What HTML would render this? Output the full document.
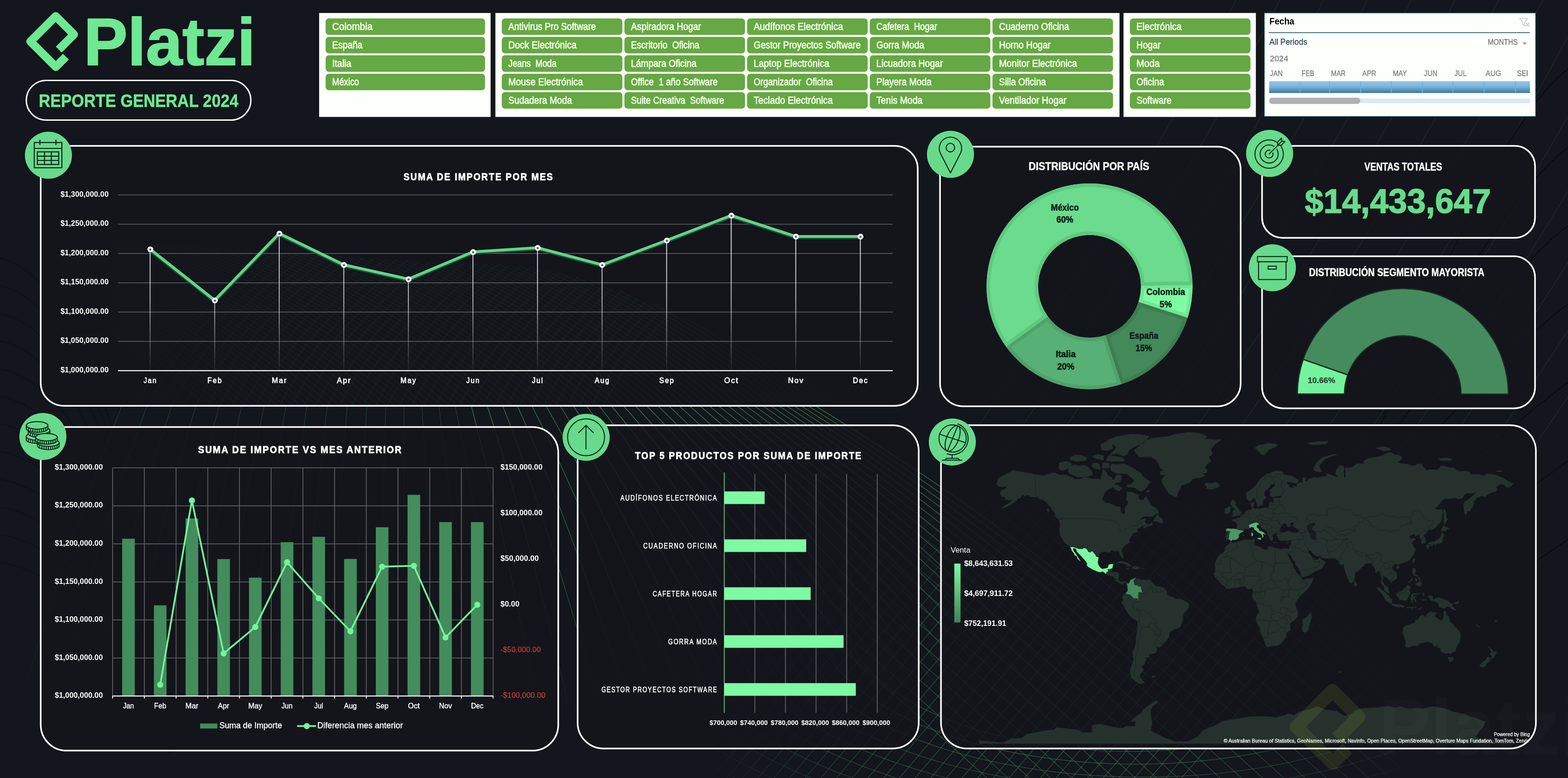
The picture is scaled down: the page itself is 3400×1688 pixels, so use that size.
<!DOCTYPE html>
<html lang="es">
<head>
<meta charset="utf-8">
<title>Platzi - Reporte General 2024</title>
<style>
html,body{margin:0;padding:0;background:#13161c;}
body{width:3400px;height:1688px;overflow:hidden;position:relative;}
svg{display:block;position:absolute;left:0;top:0;}
text{font-family:'Liberation Sans', sans-serif;white-space:pre;}
</style>
</head>
<body>
<svg width="3400" height="1688" viewBox="0 0 3400 1688">
<rect width="3400" height="1688" fill="#13161c"/>
<!-- bg -->
<defs>
<radialGradient id="bgm1" gradientUnits="userSpaceOnUse" cx="1500" cy="930" r="820" gradientTransform="translate(1500 930) scale(1 0.5) translate(-1500 -930)">
<stop offset="0" stop-color="#fff" stop-opacity="1"/><stop offset="0.5" stop-color="#fff" stop-opacity="0.85"/><stop offset="1" stop-color="#fff" stop-opacity="0"/></radialGradient>
<mask id="bgmask1" maskUnits="userSpaceOnUse" x="0" y="0" width="3400" height="1688"><rect width="3400" height="1688" fill="url(#bgm1)"/></mask>
<radialGradient id="bgm2" gradientUnits="userSpaceOnUse" cx="2300" cy="1560" r="800" gradientTransform="translate(2300 1560) scale(1 0.66) translate(-2300 -1560)">
<stop offset="0" stop-color="#fff" stop-opacity="1"/><stop offset="0.55" stop-color="#fff" stop-opacity="0.75"/><stop offset="1" stop-color="#fff" stop-opacity="0"/></radialGradient>
<mask id="bgmask2" maskUnits="userSpaceOnUse" x="0" y="0" width="3400" height="1688"><rect width="3400" height="1688" fill="url(#bgm2)"/></mask>
</defs>
<defs><linearGradient id="fang" gradientUnits="userSpaceOnUse" x1="0" y1="860" x2="0" y2="1560"><stop offset="0" stop-color="#fff" stop-opacity="1"/><stop offset="0.12" stop-color="#fff" stop-opacity="1"/><stop offset="0.6" stop-color="#fff" stop-opacity="0.6"/><stop offset="1" stop-color="#fff" stop-opacity="0"/></linearGradient><mask id="fanm" maskUnits="userSpaceOnUse" x="0" y="0" width="3400" height="1688"><rect x="0" y="882" width="3400" height="806" fill="url(#fang)"/></mask></defs>
<path d="M1750 870 Q2218 1150 2735 1600 M1735 870 Q2195 1150 2704 1600 M1720 870 Q2172 1150 2672 1600 M1705 870 Q2148 1150 2639 1600 M1689 870 Q2124 1150 2605 1600 M1673 870 Q2099 1150 2570 1600 M1656 870 Q2073 1150 2535 1600 M1639 870 Q2046 1150 2498 1600 M1621 870 Q2019 1150 2460 1600 M1603 870 Q1991 1150 2422 1600 M1584 870 Q1963 1150 2382 1600 M1565 870 Q1933 1150 2341 1600 M1545 870 Q1903 1150 2299 1600 M1525 870 Q1872 1150 2256 1600 M1505 870 Q1840 1150 2212 1600 M1483 870 Q1807 1150 2166 1600 M1461 870 Q1774 1150 2120 1600 M1439 870 Q1739 1150 2072 1600 M1416 870 Q1704 1150 2023 1600 M1392 870 Q1668 1150 1972 1600 M1368 870 Q1630 1150 1921 1600 M1343 870 Q1592 1150 1867 1600 M1317 870 Q1552 1150 1813 1600 M1291 870 Q1512 1150 1756 1600 M1264 870 Q1470 1150 1699 1600 M1236 870 Q1428 1150 1639 1600 M1208 870 Q1384 1150 1579 1600 M1178 870 Q1339 1150 1516 1600 M1148 870 Q1292 1150 1452 1600 M1117 870 Q1245 1150 1386 1600 M1086 870 Q1196 1150 1318 1600 M1053 870 Q1146 1150 1249 1600 M1019 870 Q1094 1150 1177 1600" fill="none" stroke="#41855c" stroke-opacity="0.85" stroke-width="1.4" mask="url(#fanm)"/>
<path d="M985 870 Q1042 1150 1104 1600 M950 870 Q987 1150 1029 1600 M914 870 Q932 1150 952 1600 M876 870 Q875 1150 875 1600 M837 870 Q828 1150 819 1600 M796 870 Q780 1150 762 1600 M754 870 Q730 1150 703 1600 M711 870 Q679 1150 643 1600 M667 870 Q626 1150 582 1600 M622 870 Q573 1150 518 1600 M575 870 Q517 1150 453 1600 M527 870 Q460 1150 386 1600 M478 870 Q402 1150 317 1600 M428 870 Q342 1150 247 1600 M376 870 Q280 1150 174 1600 M323 870 Q217 1150 100 1600 M269 870 Q152 1150 23 1600" fill="none" stroke="#3a6b52" stroke-opacity="0.45" stroke-width="1.3" mask="url(#fanm)"/>
<path d="M940 700 Q1380 1000 2140 1688 M986 700 Q1426 1000 2186 1688 M1032 700 Q1472 1000 2232 1688 M1078 700 Q1518 1000 2278 1688 M1124 700 Q1564 1000 2324 1688 M1170 700 Q1610 1000 2370 1688 M1216 700 Q1656 1000 2416 1688 M1262 700 Q1702 1000 2462 1688 M1308 700 Q1748 1000 2508 1688 M1354 700 Q1794 1000 2554 1688 M1400 700 Q1840 1000 2600 1688 M1446 700 Q1886 1000 2646 1688 M1492 700 Q1932 1000 2692 1688 M1538 700 Q1978 1000 2738 1688 M1584 700 Q2024 1000 2784 1688 M1630 700 Q2070 1000 2830 1688 M1676 700 Q2116 1000 2876 1688 M1722 700 Q2162 1000 2922 1688 M1768 700 Q2208 1000 2968 1688 M1814 700 Q2254 1000 3014 1688 M1860 700 Q2300 1000 3060 1688 M1906 700 Q2346 1000 3106 1688 M1952 700 Q2392 1000 3152 1688 M1998 700 Q2438 1000 3198 1688 M2044 700 Q2484 1000 3244 1688 M2090 700 Q2530 1000 3290 1688 M2136 700 Q2576 1000 3336 1688 M2182 700 Q2622 1000 3382 1688 M2228 700 Q2668 1000 3428 1688 M2274 700 Q2714 1000 3474 1688" fill="none" stroke="#41855c" stroke-opacity="0.6" stroke-width="1.4" mask="url(#bgmask2)"/>
<path d="M2220 760 Q1920 1130 1440 1688 M2254 760 Q1954 1130 1474 1688 M2288 760 Q1988 1130 1508 1688 M2322 760 Q2022 1130 1542 1688 M2356 760 Q2056 1130 1576 1688 M2390 760 Q2090 1130 1610 1688 M2424 760 Q2124 1130 1644 1688 M2458 760 Q2158 1130 1678 1688 M2492 760 Q2192 1130 1712 1688 M2526 760 Q2226 1130 1746 1688 M2560 760 Q2260 1130 1780 1688 M2594 760 Q2294 1130 1814 1688 M2628 760 Q2328 1130 1848 1688 M2662 760 Q2362 1130 1882 1688 M2696 760 Q2396 1130 1916 1688 M2730 760 Q2430 1130 1950 1688 M2764 760 Q2464 1130 1984 1688 M2798 760 Q2498 1130 2018 1688 M2832 760 Q2532 1130 2052 1688 M2866 760 Q2566 1130 2086 1688 M2900 760 Q2600 1130 2120 1688 M2934 760 Q2634 1130 2154 1688 M2968 760 Q2668 1130 2188 1688 M3002 760 Q2702 1130 2222 1688 M3036 760 Q2736 1130 2256 1688 M3070 760 Q2770 1130 2290 1688 M3104 760 Q2804 1130 2324 1688 M3138 760 Q2838 1130 2358 1688 M3172 760 Q2872 1130 2392 1688 M3206 760 Q2906 1130 2426 1688 M3240 760 Q2940 1130 2460 1688 M3274 760 Q2974 1130 2494 1688 M3308 760 Q3008 1130 2528 1688 M3342 760 Q3042 1130 2562 1688" fill="none" stroke="#41855c" stroke-opacity="0.6" stroke-width="1.4" mask="url(#bgmask2)"/>
<path d="M1830 1330 A620 300 0 0 0 3070 1330 M1764 1324 A700 334 0 0 0 3164 1324 M1698 1318 A780 368 0 0 0 3258 1318 M1632 1312 A860 402 0 0 0 3352 1312 M1566 1306 A940 436 0 0 0 3446 1306 M1500 1300 A1020 470 0 0 0 3540 1300 M1434 1294 A1100 504 0 0 0 3634 1294 M1368 1288 A1180 538 0 0 0 3728 1288 M1302 1282 A1260 572 0 0 0 3822 1282 M1236 1276 A1340 606 0 0 0 3916 1276 M1170 1270 A1420 640 0 0 0 4010 1270 M1104 1264 A1500 674 0 0 0 4104 1264" fill="none" stroke="#41855c" stroke-opacity="0.6" stroke-width="1.4" mask="url(#bgmask2)"/>
<defs><clipPath id="hill"><path d="M250 522 C480 536 800 566 1056 572 C1300 580 1520 700 1800 856 L1800 882 L250 882 Z"/></clipPath><linearGradient id="hillg" gradientUnits="userSpaceOnUse" x1="250" y1="0" x2="1800" y2="0"><stop offset="0" stop-color="#fff" stop-opacity="0.15"/><stop offset="0.25" stop-color="#fff" stop-opacity="0.9"/><stop offset="0.8" stop-color="#fff" stop-opacity="0.9"/><stop offset="1" stop-color="#fff" stop-opacity="0.3"/></linearGradient><mask id="hillm" maskUnits="userSpaceOnUse" x="0" y="0" width="3400" height="1688"><rect width="3400" height="1688" fill="url(#hillg)"/></mask></defs>
<g clip-path="url(#hill)"><path d="M-250 500 Q170 640 450 882 M-233 500 Q187 640 467 882 M-216 500 Q204 640 484 882 M-199 500 Q221 640 501 882 M-182 500 Q238 640 518 882 M-165 500 Q255 640 535 882 M-148 500 Q272 640 552 882 M-131 500 Q289 640 569 882 M-114 500 Q306 640 586 882 M-97 500 Q323 640 603 882 M-80 500 Q340 640 620 882 M-63 500 Q357 640 637 882 M-46 500 Q374 640 654 882 M-29 500 Q391 640 671 882 M-12 500 Q408 640 688 882 M5 500 Q425 640 705 882 M22 500 Q442 640 722 882 M39 500 Q459 640 739 882 M56 500 Q476 640 756 882 M73 500 Q493 640 773 882 M90 500 Q510 640 790 882 M107 500 Q527 640 807 882 M124 500 Q544 640 824 882 M141 500 Q561 640 841 882 M158 500 Q578 640 858 882 M175 500 Q595 640 875 882 M192 500 Q612 640 892 882 M209 500 Q629 640 909 882 M226 500 Q646 640 926 882 M243 500 Q663 640 943 882 M260 500 Q680 640 960 882 M277 500 Q697 640 977 882 M294 500 Q714 640 994 882 M311 500 Q731 640 1011 882 M328 500 Q748 640 1028 882 M345 500 Q765 640 1045 882 M362 500 Q782 640 1062 882 M379 500 Q799 640 1079 882 M396 500 Q816 640 1096 882 M413 500 Q833 640 1113 882 M430 500 Q850 640 1130 882 M447 500 Q867 640 1147 882 M464 500 Q884 640 1164 882 M481 500 Q901 640 1181 882 M498 500 Q918 640 1198 882 M515 500 Q935 640 1215 882 M532 500 Q952 640 1232 882 M549 500 Q969 640 1249 882 M566 500 Q986 640 1266 882 M583 500 Q1003 640 1283 882 M600 500 Q1020 640 1300 882 M617 500 Q1037 640 1317 882 M634 500 Q1054 640 1334 882 M651 500 Q1071 640 1351 882 M668 500 Q1088 640 1368 882 M685 500 Q1105 640 1385 882 M702 500 Q1122 640 1402 882 M719 500 Q1139 640 1419 882 M736 500 Q1156 640 1436 882 M753 500 Q1173 640 1453 882 M770 500 Q1190 640 1470 882 M787 500 Q1207 640 1487 882 M804 500 Q1224 640 1504 882 M821 500 Q1241 640 1521 882 M838 500 Q1258 640 1538 882 M855 500 Q1275 640 1555 882 M872 500 Q1292 640 1572 882 M889 500 Q1309 640 1589 882 M906 500 Q1326 640 1606 882 M923 500 Q1343 640 1623 882 M940 500 Q1360 640 1640 882 M957 500 Q1377 640 1657 882 M974 500 Q1394 640 1674 882 M991 500 Q1411 640 1691 882 M1008 500 Q1428 640 1708 882 M1025 500 Q1445 640 1725 882 M1042 500 Q1462 640 1742 882 M1059 500 Q1479 640 1759 882 M1076 500 Q1496 640 1776 882 M1093 500 Q1513 640 1793 882 M1110 500 Q1530 640 1810 882 M1127 500 Q1547 640 1827 882 M1144 500 Q1564 640 1844 882 M1161 500 Q1581 640 1861 882 M1178 500 Q1598 640 1878 882 M1195 500 Q1615 640 1895 882 M1212 500 Q1632 640 1912 882 M1229 500 Q1649 640 1929 882 M1246 500 Q1666 640 1946 882 M1263 500 Q1683 640 1963 882 M1280 500 Q1700 640 1980 882 M1297 500 Q1717 640 1997 882 M1314 500 Q1734 640 2014 882 M1331 500 Q1751 640 2031 882 M1348 500 Q1768 640 2048 882 M1365 500 Q1785 640 2065 882 M1382 500 Q1802 640 2082 882 M1399 500 Q1819 640 2099 882 M1416 500 Q1836 640 2116 882 M1433 500 Q1853 640 2133 882 M1450 500 Q1870 640 2150 882 M1467 500 Q1887 640 2167 882 M1484 500 Q1904 640 2184 882 M1501 500 Q1921 640 2201 882 M1518 500 Q1938 640 2218 882 M1535 500 Q1955 640 2235 882 M1552 500 Q1972 640 2252 882 M1569 500 Q1989 640 2269 882 M1586 500 Q2006 640 2286 882 M1603 500 Q2023 640 2303 882" fill="none" stroke="#41855c" stroke-opacity="0.55" stroke-width="1.3" mask="url(#hillm)"/></g>
<g clip-path="url(#hill)"><path d="M250 990 Q340 700 670 500 M276 990 Q366 700 696 500 M302 990 Q392 700 722 500 M328 990 Q418 700 748 500 M354 990 Q444 700 774 500 M380 990 Q470 700 800 500 M406 990 Q496 700 826 500 M432 990 Q522 700 852 500 M458 990 Q548 700 878 500 M484 990 Q574 700 904 500 M510 990 Q600 700 930 500 M536 990 Q626 700 956 500 M562 990 Q652 700 982 500 M588 990 Q678 700 1008 500 M614 990 Q704 700 1034 500 M640 990 Q730 700 1060 500 M666 990 Q756 700 1086 500 M692 990 Q782 700 1112 500 M718 990 Q808 700 1138 500 M744 990 Q834 700 1164 500 M770 990 Q860 700 1190 500 M796 990 Q886 700 1216 500 M822 990 Q912 700 1242 500 M848 990 Q938 700 1268 500 M874 990 Q964 700 1294 500 M900 990 Q990 700 1320 500 M926 990 Q1016 700 1346 500 M952 990 Q1042 700 1372 500 M978 990 Q1068 700 1398 500 M1004 990 Q1094 700 1424 500 M1030 990 Q1120 700 1450 500 M1056 990 Q1146 700 1476 500 M1082 990 Q1172 700 1502 500 M1108 990 Q1198 700 1528 500 M1134 990 Q1224 700 1554 500 M1160 990 Q1250 700 1580 500 M1186 990 Q1276 700 1606 500 M1212 990 Q1302 700 1632 500 M1238 990 Q1328 700 1658 500 M1264 990 Q1354 700 1684 500" fill="none" stroke="#41855c" stroke-opacity="0.6" stroke-width="1.3" mask="url(#hillm)"/></g>
<path d="M2680 0 Q2470 420 2070 1000 M2775 0 Q2565 420 2165 1000 M2870 0 Q2660 420 2260 1000 M2965 0 Q2755 420 2355 1000 M3060 0 Q2850 420 2450 1000 M3155 0 Q2945 420 2545 1000 M3250 0 Q3040 420 2640 1000 M3345 0 Q3135 420 2735 1000 M3440 0 Q3230 420 2830 1000 M3535 0 Q3325 420 2925 1000 M3630 0 Q3420 420 3020 1000 M3725 0 Q3515 420 3115 1000 M3820 0 Q3610 420 3210 1000 M3915 0 Q3705 420 3305 1000 M4010 0 Q3800 420 3400 1000 M4105 0 Q3895 420 3495 1000" fill="none" stroke="#263a34" stroke-opacity="0.6" stroke-width="1.3"/>
<path d="M3400 150 Q3250 260 3000 900 M3400 320 Q3250 430 2940 1020 M3400 490 Q3250 600 2880 1140 M3400 660 Q3250 770 2820 1260 M3400 830 Q3250 940 2760 1380 M3400 1000 Q3250 1110 2700 1500 M3400 1170 Q3250 1280 2640 1620" fill="none" stroke="#07090c" stroke-opacity="0.9" stroke-width="1.6"/>
<path d="M0 560 Q140 590 260 980 M0 620 Q146 650 270 1040 M0 680 Q152 710 280 1100 M0 740 Q158 770 290 1160 M0 800 Q164 830 300 1220 M0 860 Q170 890 310 1280 M0 920 Q176 950 320 1340 M0 980 Q182 1010 330 1400 M0 1040 Q188 1070 340 1460 M0 1100 Q194 1130 350 1520 M0 1160 Q200 1190 360 1580 M0 1220 Q206 1250 370 1640" fill="none" stroke="#0a0c10" stroke-opacity="0.55" stroke-width="1.5"/>
<!-- header -->
<path d="M143 123 L121 145 L66 90 L120.75 35.25 L160.25 74.75 L127.4 107.6" fill="none" stroke="#6ee892" stroke-width="18" stroke-linejoin="round" stroke-linecap="butt"/>
<text x="181.5" y="141.4" font-size="144" fill="#6ee892" textLength="372.5" lengthAdjust="spacingAndGlyphs" font-weight="bold" stroke="#6ee892" stroke-width="2.2" stroke-linejoin="round">Platzi</text>
<rect x="57" y="174.5" width="487" height="86" rx="43" fill="#13161c" stroke="#fff" stroke-width="3"/>
<text x="84.0" y="232.0" font-size="38.5" fill="#6ee892" textLength="433.0" lengthAdjust="spacingAndGlyphs" font-weight="bold" stroke="#6ee892" stroke-width="0.6">REPORTE GENERAL 2024</text>
<rect x="692" y="28.2" width="371.79999999999995" height="225.5" fill="#fdfffb"/>
<rect x="706" y="40" width="345.8" height="35.8" rx="7" fill="#66a843"/>
<text x="720.3" y="65.4" font-size="21.6" fill="#f4ffea" textLength="87.5" lengthAdjust="spacingAndGlyphs" stroke="#f4ffea" stroke-width="0.8">Colombia</text>
<rect x="706" y="80" width="345.8" height="35.8" rx="7" fill="#66a843"/>
<text x="720.3" y="105.4" font-size="21.6" fill="#f4ffea" textLength="65.8" lengthAdjust="spacingAndGlyphs" stroke="#f4ffea" stroke-width="0.8">España</text>
<rect x="706" y="120" width="345.8" height="35.8" rx="7" fill="#66a843"/>
<text x="720.3" y="145.4" font-size="21.6" fill="#f4ffea" textLength="41.5" lengthAdjust="spacingAndGlyphs" stroke="#f4ffea" stroke-width="0.8">Italia</text>
<rect x="706" y="160" width="345.8" height="35.8" rx="7" fill="#66a843"/>
<text x="720.3" y="185.4" font-size="21.6" fill="#f4ffea" textLength="58.3" lengthAdjust="spacingAndGlyphs" stroke="#f4ffea" stroke-width="0.8">México</text>
<rect x="1074.2" y="28.2" width="1353.3" height="225.5" fill="#fdfffb"/>
<rect x="1088" y="40" width="261.5" height="35.8" rx="7" fill="#66a843"/>
<text x="1102.3" y="65.4" font-size="21.6" fill="#f4ffea" textLength="190.0" lengthAdjust="spacingAndGlyphs" stroke="#f4ffea" stroke-width="0.8">Antivirus Pro Software</text>
<rect x="1088" y="80" width="261.5" height="35.8" rx="7" fill="#66a843"/>
<text x="1102.3" y="105.4" font-size="21.6" fill="#f4ffea" textLength="148.0" lengthAdjust="spacingAndGlyphs" stroke="#f4ffea" stroke-width="0.8">Dock Electrónica</text>
<rect x="1088" y="120" width="261.5" height="35.8" rx="7" fill="#66a843"/>
<text x="1102.3" y="145.4" font-size="21.6" fill="#f4ffea" textLength="104.3" lengthAdjust="spacingAndGlyphs" stroke="#f4ffea" stroke-width="0.8">Jeans  Moda</text>
<rect x="1088" y="160" width="261.5" height="35.8" rx="7" fill="#66a843"/>
<text x="1102.3" y="185.4" font-size="21.6" fill="#f4ffea" textLength="161.8" lengthAdjust="spacingAndGlyphs" stroke="#f4ffea" stroke-width="0.8">Mouse Electrónica</text>
<rect x="1088" y="200" width="261.5" height="35.8" rx="7" fill="#66a843"/>
<text x="1102.3" y="225.4" font-size="21.6" fill="#f4ffea" textLength="138.0" lengthAdjust="spacingAndGlyphs" stroke="#f4ffea" stroke-width="0.8">Sudadera Moda</text>
<rect x="1354" y="40" width="261.5" height="35.8" rx="7" fill="#66a843"/>
<text x="1368.3" y="65.4" font-size="21.6" fill="#f4ffea" textLength="152.0" lengthAdjust="spacingAndGlyphs" stroke="#f4ffea" stroke-width="0.8">Aspiradora Hogar</text>
<rect x="1354" y="80" width="261.5" height="35.8" rx="7" fill="#66a843"/>
<text x="1368.3" y="105.4" font-size="21.6" fill="#f4ffea" textLength="148.3" lengthAdjust="spacingAndGlyphs" stroke="#f4ffea" stroke-width="0.8">Escritorio  Oficina</text>
<rect x="1354" y="120" width="261.5" height="35.8" rx="7" fill="#66a843"/>
<text x="1368.3" y="145.4" font-size="21.6" fill="#f4ffea" textLength="142.0" lengthAdjust="spacingAndGlyphs" stroke="#f4ffea" stroke-width="0.8">Lámpara Oficina</text>
<rect x="1354" y="160" width="261.5" height="35.8" rx="7" fill="#66a843"/>
<text x="1368.3" y="185.4" font-size="21.6" fill="#f4ffea" textLength="187.8" lengthAdjust="spacingAndGlyphs" stroke="#f4ffea" stroke-width="0.8">Office  1 año Software</text>
<rect x="1354" y="200" width="261.5" height="35.8" rx="7" fill="#66a843"/>
<text x="1368.3" y="225.4" font-size="21.6" fill="#f4ffea" textLength="202.0" lengthAdjust="spacingAndGlyphs" stroke="#f4ffea" stroke-width="0.8">Suite Creativa  Software</text>
<rect x="1620" y="40" width="261.5" height="35.8" rx="7" fill="#66a843"/>
<text x="1634.3" y="65.4" font-size="21.6" fill="#f4ffea" textLength="193.8" lengthAdjust="spacingAndGlyphs" stroke="#f4ffea" stroke-width="0.8">Audífonos Electrónica</text>
<rect x="1620" y="80" width="261.5" height="35.8" rx="7" fill="#66a843"/>
<text x="1634.3" y="105.4" font-size="21.6" fill="#f4ffea" textLength="232.0" lengthAdjust="spacingAndGlyphs" stroke="#f4ffea" stroke-width="0.8">Gestor Proyectos Software</text>
<rect x="1620" y="120" width="261.5" height="35.8" rx="7" fill="#66a843"/>
<text x="1634.3" y="145.4" font-size="21.6" fill="#f4ffea" textLength="164.0" lengthAdjust="spacingAndGlyphs" stroke="#f4ffea" stroke-width="0.8">Laptop Electrónica</text>
<rect x="1620" y="160" width="261.5" height="35.8" rx="7" fill="#66a843"/>
<text x="1634.3" y="185.4" font-size="21.6" fill="#f4ffea" textLength="171.4" lengthAdjust="spacingAndGlyphs" stroke="#f4ffea" stroke-width="0.8">Organizador  Oficina</text>
<rect x="1620" y="200" width="261.5" height="35.8" rx="7" fill="#66a843"/>
<text x="1634.3" y="225.4" font-size="21.6" fill="#f4ffea" textLength="171.4" lengthAdjust="spacingAndGlyphs" stroke="#f4ffea" stroke-width="0.8">Teclado Electrónica</text>
<rect x="1886" y="40" width="261.5" height="35.8" rx="7" fill="#66a843"/>
<text x="1900.3" y="65.4" font-size="21.6" fill="#f4ffea" textLength="131.8" lengthAdjust="spacingAndGlyphs" stroke="#f4ffea" stroke-width="0.8">Cafetera  Hogar</text>
<rect x="1886" y="80" width="261.5" height="35.8" rx="7" fill="#66a843"/>
<text x="1900.3" y="105.4" font-size="21.6" fill="#f4ffea" textLength="103.9" lengthAdjust="spacingAndGlyphs" stroke="#f4ffea" stroke-width="0.8">Gorra Moda</text>
<rect x="1886" y="120" width="261.5" height="35.8" rx="7" fill="#66a843"/>
<text x="1900.3" y="145.4" font-size="21.6" fill="#f4ffea" textLength="144.4" lengthAdjust="spacingAndGlyphs" stroke="#f4ffea" stroke-width="0.8">Licuadora Hogar</text>
<rect x="1886" y="160" width="261.5" height="35.8" rx="7" fill="#66a843"/>
<text x="1900.3" y="185.4" font-size="21.6" fill="#f4ffea" textLength="119.7" lengthAdjust="spacingAndGlyphs" stroke="#f4ffea" stroke-width="0.8">Playera Moda</text>
<rect x="1886" y="200" width="261.5" height="35.8" rx="7" fill="#66a843"/>
<text x="1900.3" y="225.4" font-size="21.6" fill="#f4ffea" textLength="100.2" lengthAdjust="spacingAndGlyphs" stroke="#f4ffea" stroke-width="0.8">Tenis Moda</text>
<rect x="2152" y="40" width="261.5" height="35.8" rx="7" fill="#66a843"/>
<text x="2166.3" y="65.4" font-size="21.6" fill="#f4ffea" textLength="152.0" lengthAdjust="spacingAndGlyphs" stroke="#f4ffea" stroke-width="0.8">Cuaderno Oficina</text>
<rect x="2152" y="80" width="261.5" height="35.8" rx="7" fill="#66a843"/>
<text x="2166.3" y="105.4" font-size="21.6" fill="#f4ffea" textLength="112.0" lengthAdjust="spacingAndGlyphs" stroke="#f4ffea" stroke-width="0.8">Horno Hogar</text>
<rect x="2152" y="120" width="261.5" height="35.8" rx="7" fill="#66a843"/>
<text x="2166.3" y="145.4" font-size="21.6" fill="#f4ffea" textLength="169.3" lengthAdjust="spacingAndGlyphs" stroke="#f4ffea" stroke-width="0.8">Monitor Electrónica</text>
<rect x="2152" y="160" width="261.5" height="35.8" rx="7" fill="#66a843"/>
<text x="2166.3" y="185.4" font-size="21.6" fill="#f4ffea" textLength="101.8" lengthAdjust="spacingAndGlyphs" stroke="#f4ffea" stroke-width="0.8">Silla Oficina</text>
<rect x="2152" y="200" width="261.5" height="35.8" rx="7" fill="#66a843"/>
<text x="2166.3" y="225.4" font-size="21.6" fill="#f4ffea" textLength="146.3" lengthAdjust="spacingAndGlyphs" stroke="#f4ffea" stroke-width="0.8">Ventilador Hogar</text>
<rect x="2436.2" y="28.2" width="287.0" height="225.5" fill="#fdfffb"/>
<rect x="2450" y="40" width="261.5" height="35.8" rx="7" fill="#66a843"/>
<text x="2464.3" y="65.4" font-size="21.6" fill="#f4ffea" textLength="98.0" lengthAdjust="spacingAndGlyphs" stroke="#f4ffea" stroke-width="0.8">Electrónica</text>
<rect x="2450" y="80" width="261.5" height="35.8" rx="7" fill="#66a843"/>
<text x="2464.3" y="105.4" font-size="21.6" fill="#f4ffea" textLength="52.3" lengthAdjust="spacingAndGlyphs" stroke="#f4ffea" stroke-width="0.8">Hogar</text>
<rect x="2450" y="120" width="261.5" height="35.8" rx="7" fill="#66a843"/>
<text x="2464.3" y="145.4" font-size="21.6" fill="#f4ffea" textLength="50.3" lengthAdjust="spacingAndGlyphs" stroke="#f4ffea" stroke-width="0.8">Moda</text>
<rect x="2450" y="160" width="261.5" height="35.8" rx="7" fill="#66a843"/>
<text x="2464.3" y="185.4" font-size="21.6" fill="#f4ffea" textLength="59.8" lengthAdjust="spacingAndGlyphs" stroke="#f4ffea" stroke-width="0.8">Oficina</text>
<rect x="2450" y="200" width="261.5" height="35.8" rx="7" fill="#66a843"/>
<text x="2464.3" y="225.4" font-size="21.6" fill="#f4ffea" textLength="76.0" lengthAdjust="spacingAndGlyphs" stroke="#f4ffea" stroke-width="0.8">Software</text>
<defs><linearGradient id="tlg" x1="0" y1="0" x2="0" y2="1"><stop offset="0" stop-color="#93c6e8"/><stop offset="0.45" stop-color="#7db4da"/><stop offset="1" stop-color="#38799f"/></linearGradient><clipPath id="tlclip"><rect x="2752" y="140" width="561" height="40"/></clipPath></defs>
<rect x="2741.4" y="27.9" width="588.6" height="225" fill="#fdfffb" stroke="#1c4257" stroke-width="1.6"/>
<text x="2752.5" y="53.2" font-size="20.5" fill="#000" textLength="54.0" lengthAdjust="spacingAndGlyphs" font-weight="bold">Fecha</text>
<g fill="none" stroke="#c4c6c8" stroke-width="1.6"><path d="M3295.5 40.5 h17 l-6.5 8 v7.5 l-4 -2.5 v-5 z"/><path d="M3308.5 49.5 l7.5 7.5 m0 -7.5 l-7.5 7.5" stroke-width="2"/></g>
<rect x="2751" y="70" width="566.5" height="1.6" fill="#1f5068"/>
<text x="2752.5" y="96.8" font-size="18.2" fill="#2d4d60" textLength="82.0" lengthAdjust="spacingAndGlyphs" stroke="#2d4d60" stroke-width="0.35">All Periods</text>
<text x="3226.0" y="96.8" font-size="15.6" fill="#767676" textLength="65.0" lengthAdjust="spacingAndGlyphs" stroke="#767676" stroke-width="0.3">MONTHS</text>
<path d="M3301 92 h10 l-5 5 z" fill="#9a9a9a"/>
<text x="2753.8" y="133.2" font-size="16.5" fill="#7c7c7c" textLength="39.5" lengthAdjust="spacingAndGlyphs" stroke="#7c7c7c" stroke-width="0.3">2024</text>
<g clip-path="url(#tlclip)">
<text x="2753.8" y="165.0" font-size="16.2" fill="#7c7c7c" textLength="27.5" lengthAdjust="spacingAndGlyphs" stroke="#7c7c7c" stroke-width="0.3">JAN</text>
<text x="2822.5" y="165.0" font-size="16.2" fill="#7c7c7c" textLength="27.5" lengthAdjust="spacingAndGlyphs" stroke="#7c7c7c" stroke-width="0.3">FEB</text>
<text x="2886.3" y="165.0" font-size="16.2" fill="#7c7c7c" textLength="31.5" lengthAdjust="spacingAndGlyphs" stroke="#7c7c7c" stroke-width="0.3">MAR</text>
<text x="2953.8" y="165.0" font-size="16.2" fill="#7c7c7c" textLength="30.5" lengthAdjust="spacingAndGlyphs" stroke="#7c7c7c" stroke-width="0.3">APR</text>
<text x="3020.0" y="165.0" font-size="16.2" fill="#7c7c7c" textLength="31.0" lengthAdjust="spacingAndGlyphs" stroke="#7c7c7c" stroke-width="0.3">MAY</text>
<text x="3087.5" y="165.0" font-size="16.2" fill="#7c7c7c" textLength="29.5" lengthAdjust="spacingAndGlyphs" stroke="#7c7c7c" stroke-width="0.3">JUN</text>
<text x="3153.8" y="165.0" font-size="16.2" fill="#7c7c7c" textLength="26.5" lengthAdjust="spacingAndGlyphs" stroke="#7c7c7c" stroke-width="0.3">JUL</text>
<text x="3221.3" y="165.0" font-size="16.2" fill="#7c7c7c" textLength="34.0" lengthAdjust="spacingAndGlyphs" stroke="#7c7c7c" stroke-width="0.3">AUG</text>
<text x="3289.5" y="165.0" font-size="16.2" fill="#7c7c7c" textLength="30.0" lengthAdjust="spacingAndGlyphs" stroke="#7c7c7c" stroke-width="0.3">SEP</text>
</g>
<rect x="2752" y="176.2" width="565.5" height="25.6" fill="url(#tlg)"/>
<rect x="2817.9" y="176.2" width="1.8" height="25.6" fill="#6fb1de"/>
<rect x="2882.1" y="176.2" width="1.8" height="25.6" fill="#6fb1de"/>
<rect x="2949.6" y="176.2" width="1.8" height="25.6" fill="#6fb1de"/>
<rect x="3015.9" y="176.2" width="1.8" height="25.6" fill="#6fb1de"/>
<rect x="3083.6" y="176.2" width="1.8" height="25.6" fill="#6fb1de"/>
<rect x="3149.6" y="176.2" width="1.8" height="25.6" fill="#6fb1de"/>
<rect x="3217.4" y="176.2" width="1.8" height="25.6" fill="#6fb1de"/>
<rect x="3285.4" y="176.2" width="1.8" height="25.6" fill="#6fb1de"/>
<rect x="2752" y="213.8" width="565.5" height="10" fill="#d8e8f5"/>
<rect x="2752" y="212" width="197.5" height="13.5" rx="6.7" fill="#aeb1b4"/>
<!-- panels -->
<rect x="88.3" y="316.4" width="1901.7" height="564.1" rx="50" fill="#13161c" fill-opacity="0.83" stroke="#fff" stroke-width="3.5"/>
<rect x="2038.3" y="318.3" width="651.9" height="563.2" rx="50" fill="#13161c" fill-opacity="0.83" stroke="#fff" stroke-width="3.5"/>
<rect x="2736.6" y="316.4" width="591.9" height="199.5" rx="44" fill="#13161c" fill-opacity="0.83" stroke="#fff" stroke-width="3.5"/>
<rect x="2736.6" y="556.0" width="591.9" height="330.0" rx="46" fill="#13161c" fill-opacity="0.83" stroke="#fff" stroke-width="3.5"/>
<rect x="88.3" y="926.4" width="1122.2" height="702.2" rx="56" fill="#13161c" fill-opacity="0.83" stroke="#fff" stroke-width="3.5"/>
<rect x="1252.5" y="922.7" width="739.6" height="701.3" rx="56" fill="#13161c" fill-opacity="0.83" stroke="#fff" stroke-width="3.5"/>
<rect x="2040.4" y="922.5" width="1290.0" height="701.5" rx="56" fill="#13161c" fill-opacity="0.83" stroke="#fff" stroke-width="3.5"/>
<circle cx="105" cy="336.8" r="51" fill="#67da8c"/>
<g fill="none" stroke="#071c0e" stroke-width="2.2"><rect x="74.3" y="309.2" width="59.8" height="54.8"/><path d="M74.3 322 h59.8 M86.5 303 v11.5 M121.3 303 v11.5"/><g stroke-width="2.2"><rect x="81" y="329.5" width="46.3" height="27.4"/><path d="M96.5 329.5 v27.4 M111.3 329.5 v27.4 M81 338.8 h46.3 M81 348 h46.3"/></g></g>
<circle cx="2061" cy="334.8" r="51" fill="#67da8c"/>
<g fill="none" stroke="#071c0e" stroke-width="2.1"><path d="M2060.9 375.3 L2040.2 334.5 A24.3 24.3 0 1 1 2081.6 334.5 Z" stroke-linejoin="round"/><circle cx="2060.8" cy="320.3" r="9.3"/></g>
<circle cx="2753" cy="332.8" r="51" fill="#67da8c"/>
<g fill="none" stroke="#071c0e" stroke-width="2"><circle cx="2752.0" cy="334.2" r="30.8"/><circle cx="2752.0" cy="334.2" r="19.6"/><circle cx="2752.0" cy="334.2" r="8.5"/></g><path d="M2757 329.2 L2777 309.2" stroke="#67da8c" stroke-width="7.5" fill="none"/><g fill="none" stroke="#071c0e" stroke-width="2" stroke-linejoin="round" stroke-linecap="round"><path d="M2751.8 334.4 L2770.6 315.6"/><path d="M2770.4 315.2 L2770.8 307.6 L2778.9 299.5 L2779.4 306.3 L2786.3 307.1 L2778.6 314.8 Z" fill="#67da8c"/><path d="M2770.6 315.4 L2779.2 306.5"/></g>
<circle cx="2759" cy="581" r="51" fill="#67da8c"/>
<g fill="none" stroke="#071c0e" stroke-width="2"><rect x="2726.6" y="556.6" width="64.4" height="11.3"/><rect x="2729" y="567.9" width="59.6" height="38.6"/><rect x="2749.6" y="577.5" width="17.8" height="6.5"/></g>
<circle cx="93" cy="946.9" r="51" fill="#67da8c"/>
<g fill="none" stroke="#071c0e" stroke-width="2.1" stroke-linejoin="round"><path d="M56.9 946.9 V953.9 A23.4 8.1 0 0 0 103.7 953.9 V946.9 A23.4 8.1 0 0 0 56.9 946.9 Z" fill="#67da8c"/><path d="M56.9 946.9 A23.4 8.1 0 0 0 103.7 946.9"/><path d="M61.6 952.6 v5.6 M66.3 954.2 v5.6 M70.9 955.1 v5.6 M75.6 955.6 v5.6 M80.3 955.8 v5.6 M85.0 955.6 v5.6 M89.7 955.1 v5.6 M94.3 954.2 v5.6 M99.0 952.6 v5.6" stroke-width="1.9"/><path d="M61.4 933.9 V940.9 A23.4 8.1 0 0 0 108.2 940.9 V933.9 A23.4 8.1 0 0 0 61.4 933.9 Z" fill="#67da8c"/><path d="M61.4 933.9 A23.4 8.1 0 0 0 108.2 933.9"/><path d="M66.1 939.6 v5.6 M70.8 941.2 v5.6 M75.4 942.1 v5.6 M80.1 942.6 v5.6 M84.8 942.8 v5.6 M89.5 942.6 v5.6 M94.2 942.1 v5.6 M98.8 941.2 v5.6 M103.5 939.6 v5.6" stroke-width="1.9"/><path d="M57.1 922.9 V929.9 A23.4 8.1 0 0 0 103.9 929.9 V922.9 A23.4 8.1 0 0 0 57.1 922.9 Z" fill="#67da8c"/><path d="M57.1 922.9 A23.4 8.1 0 0 0 103.9 922.9"/><path d="M61.8 928.6 v5.6 M66.5 930.2 v5.6 M71.1 931.1 v5.6 M75.8 931.6 v5.6 M80.5 931.8 v5.6 M85.2 931.6 v5.6 M89.9 931.1 v5.6 M94.5 930.2 v5.6 M99.2 928.6 v5.6" stroke-width="1.9"/><path d="M81.5 960.4 V967.4 A23.4 8.1 0 0 0 128.3 967.4 V960.4 A23.4 8.1 0 0 0 81.5 960.4 Z" fill="#67da8c"/><path d="M81.5 960.4 A23.4 8.1 0 0 0 128.3 960.4"/><path d="M86.2 966.1 v5.6 M90.9 967.7 v5.6 M95.5 968.6 v5.6 M100.2 969.1 v5.6 M104.9 969.3 v5.6 M109.6 969.1 v5.6 M114.3 968.6 v5.6 M118.9 967.7 v5.6 M123.6 966.1 v5.6" stroke-width="1.9"/><path d="M77.4 948.6 V955.6 A23.4 8.1 0 0 0 124.2 955.6 V948.6 A23.4 8.1 0 0 0 77.4 948.6 Z" fill="#67da8c"/><path d="M77.4 948.6 A23.4 8.1 0 0 0 124.2 948.6"/><path d="M82.1 954.3 v5.6 M86.8 955.9 v5.6 M91.4 956.8 v5.6 M96.1 957.3 v5.6 M100.8 957.5 v5.6 M105.5 957.3 v5.6 M110.2 956.8 v5.6 M114.8 955.9 v5.6 M119.5 954.3 v5.6" stroke-width="1.9"/></g>
<circle cx="1271" cy="948.7" r="51" fill="#67da8c"/>
<g fill="none" stroke="#071c0e" stroke-width="2"><circle cx="1270.8" cy="948.7" r="40"/><path d="M1270.6 975.2 V923.5 M1254.2 939.3 L1270.6 923 L1287.2 939.3"/></g>
<circle cx="2065" cy="959" r="51" fill="#67da8c"/>
<g fill="none" stroke="#071c0e" stroke-width="2"><circle cx="2065.6" cy="951.3" r="29.6"/><g transform="rotate(22 2065.6 951.3)"><ellipse cx="2065.6" cy="951.3" rx="13" ry="29.6"/><path d="M2065.6 921.6999999999999 V980.9"/><path d="M2036.0 951.3 H2095.2" transform="rotate(-4 2065.6 951.3)"/></g><path d="M2076.5 919.5 A34.5 34.5 0 0 1 2053 984.5"/><path d="M2064.5 986 V994.5 M2050 998 q0 -3.5 4 -3.5 h21.5 q4 0 4 3.5 M2042.5 998.5 h44"/></g>
<!-- linechart -->
<defs><linearGradient id="dropg" gradientUnits="userSpaceOnUse" x1="0" y1="470" x2="0" y2="803"><stop offset="0" stop-color="#fff" stop-opacity="1"/><stop offset="0.55" stop-color="#fff" stop-opacity="0.75"/><stop offset="1" stop-color="#fff" stop-opacity="0.05"/></linearGradient></defs>
<text transform="translate(875.0 390.6) scale(0.8507 1)" font-size="22.8" fill="#fff" font-weight="bold" textLength="380.3" lengthAdjust="spacing" stroke="#fff" stroke-width="0.85" stroke-linejoin="round">SUMA DE IMPORTE POR MES</text>
<text x="131.2" y="807.8" font-size="17.4" fill="#fff" textLength="104.3" lengthAdjust="spacingAndGlyphs" font-weight="bold">$1,000,000.00</text>
<rect x="255.8" y="739.9" width="1680" height="1.6" fill="#5d5f63"/>
<text x="131.2" y="744.3" font-size="17.4" fill="#fff" textLength="104.3" lengthAdjust="spacingAndGlyphs" font-weight="bold">$1,050,000.00</text>
<rect x="255.8" y="676.3" width="1680" height="1.6" fill="#5d5f63"/>
<text x="131.2" y="680.7" font-size="17.4" fill="#fff" textLength="104.3" lengthAdjust="spacingAndGlyphs" font-weight="bold">$1,100,000.00</text>
<rect x="255.8" y="612.8" width="1680" height="1.6" fill="#5d5f63"/>
<text x="131.2" y="617.2" font-size="17.4" fill="#fff" textLength="104.3" lengthAdjust="spacingAndGlyphs" font-weight="bold">$1,150,000.00</text>
<rect x="255.8" y="549.2" width="1680" height="1.6" fill="#5d5f63"/>
<text x="131.2" y="553.6" font-size="17.4" fill="#fff" textLength="104.3" lengthAdjust="spacingAndGlyphs" font-weight="bold">$1,200,000.00</text>
<rect x="255.8" y="485.7" width="1680" height="1.6" fill="#5d5f63"/>
<text x="131.2" y="490.1" font-size="17.4" fill="#fff" textLength="104.3" lengthAdjust="spacingAndGlyphs" font-weight="bold">$1,250,000.00</text>
<rect x="255.8" y="422.1" width="1680" height="1.6" fill="#5d5f63"/>
<text x="131.2" y="426.5" font-size="17.4" fill="#fff" textLength="104.3" lengthAdjust="spacingAndGlyphs" font-weight="bold">$1,300,000.00</text>
<rect x="324.6" y="540.6" width="1.8" height="263.6" fill="url(#dropg)"/>
<rect x="464.6" y="651.5" width="1.8" height="152.7" fill="url(#dropg)"/>
<rect x="604.6" y="506.5" width="1.8" height="297.7" fill="url(#dropg)"/>
<rect x="744.6" y="574.5" width="1.8" height="229.7" fill="url(#dropg)"/>
<rect x="884.6" y="605.5" width="1.8" height="198.7" fill="url(#dropg)"/>
<rect x="1024.6" y="546.5" width="1.8" height="257.7" fill="url(#dropg)"/>
<rect x="1164.6" y="537.5" width="1.8" height="266.7" fill="url(#dropg)"/>
<rect x="1304.6" y="574.5" width="1.8" height="229.7" fill="url(#dropg)"/>
<rect x="1444.6" y="521.5" width="1.8" height="282.7" fill="url(#dropg)"/>
<rect x="1584.6" y="467.5" width="1.8" height="336.7" fill="url(#dropg)"/>
<rect x="1724.6" y="513.0" width="1.8" height="291.2" fill="url(#dropg)"/>
<rect x="1864.6" y="513.0" width="1.8" height="291.2" fill="url(#dropg)"/>
<rect x="255.8" y="803.1" width="1680" height="2.2" fill="#fff"/>
<polyline points="325.5,542.2 465.5,653.1 605.5,508.1 745.5,576.1 885.5,607.1 1025.5,548.1 1165.5,539.1 1305.5,576.1 1445.5,523.1 1585.5,469.1 1725.5,514.6 1865.5,514.6" fill="none" stroke="#1f5232" stroke-width="9" stroke-linejoin="round" stroke-linecap="round"/>
<polyline points="325.5,540.6 465.5,651.5 605.5,506.5 745.5,574.5 885.5,605.5 1025.5,546.5 1165.5,537.5 1305.5,574.5 1445.5,521.5 1585.5,467.5 1725.5,513.0 1865.5,513.0" fill="none" stroke="#64d488" stroke-width="6.1" stroke-linejoin="round" stroke-linecap="round"/>
<circle cx="325.9" cy="541.0" r="6.3" fill="#fff"/><circle cx="325.9" cy="541.4" r="2.4" fill="#7b3f8f"/>
<circle cx="465.9" cy="651.9" r="6.3" fill="#fff"/><circle cx="465.9" cy="652.3" r="2.4" fill="#7b3f8f"/>
<circle cx="605.9" cy="506.9" r="6.3" fill="#fff"/><circle cx="605.9" cy="507.3" r="2.4" fill="#7b3f8f"/>
<circle cx="745.9" cy="574.9" r="6.3" fill="#fff"/><circle cx="745.9" cy="575.3" r="2.4" fill="#7b3f8f"/>
<circle cx="885.9" cy="605.9" r="6.3" fill="#fff"/><circle cx="885.9" cy="606.3" r="2.4" fill="#7b3f8f"/>
<circle cx="1025.9" cy="546.9" r="6.3" fill="#fff"/><circle cx="1025.9" cy="547.3" r="2.4" fill="#7b3f8f"/>
<circle cx="1165.9" cy="537.9" r="6.3" fill="#fff"/><circle cx="1165.9" cy="538.3" r="2.4" fill="#7b3f8f"/>
<circle cx="1305.9" cy="574.9" r="6.3" fill="#fff"/><circle cx="1305.9" cy="575.3" r="2.4" fill="#7b3f8f"/>
<circle cx="1445.9" cy="521.9" r="6.3" fill="#fff"/><circle cx="1445.9" cy="522.3" r="2.4" fill="#7b3f8f"/>
<circle cx="1585.9" cy="467.9" r="6.3" fill="#fff"/><circle cx="1585.9" cy="468.3" r="2.4" fill="#7b3f8f"/>
<circle cx="1725.9" cy="513.4" r="6.3" fill="#fff"/><circle cx="1725.9" cy="513.8" r="2.4" fill="#7b3f8f"/>
<circle cx="1865.9" cy="513.4" r="6.3" fill="#fff"/><circle cx="1865.9" cy="513.8" r="2.4" fill="#7b3f8f"/>
<text transform="translate(311.4 831.0) scale(0.8781 1)" font-size="16.6" fill="#fff" textLength="31.3" lengthAdjust="spacing" stroke="#fff" stroke-width="0.75">Jan</text>
<text transform="translate(449.8 831.0) scale(0.9370 1)" font-size="16.6" fill="#fff" textLength="32.9" lengthAdjust="spacing" stroke="#fff" stroke-width="0.75">Feb</text>
<text transform="translate(589.6 831.0) scale(0.9550 1)" font-size="16.6" fill="#fff" textLength="32.8" lengthAdjust="spacing" stroke="#fff" stroke-width="0.75">Mar</text>
<text transform="translate(730.5 831.0) scale(0.9872 1)" font-size="16.6" fill="#fff" textLength="29.9" lengthAdjust="spacing" stroke="#fff" stroke-width="0.75">Apr</text>
<text transform="translate(868.6 831.0) scale(0.9312 1)" font-size="16.6" fill="#fff" textLength="35.7" lengthAdjust="spacing" stroke="#fff" stroke-width="0.75">May</text>
<text transform="translate(1011.3 831.0) scale(0.8893 1)" font-size="16.6" fill="#fff" textLength="31.3" lengthAdjust="spacing" stroke="#fff" stroke-width="0.75">Jun</text>
<text transform="translate(1153.4 831.0) scale(0.9237 1)" font-size="16.6" fill="#fff" textLength="25.5" lengthAdjust="spacing" stroke="#fff" stroke-width="0.75">Jul</text>
<text transform="translate(1289.6 831.0) scale(0.9209 1)" font-size="16.6" fill="#fff" textLength="33.9" lengthAdjust="spacing" stroke="#fff" stroke-width="0.75">Aug</text>
<text transform="translate(1429.5 831.0) scale(0.9311 1)" font-size="16.6" fill="#fff" textLength="33.8" lengthAdjust="spacing" stroke="#fff" stroke-width="0.75">Sep</text>
<text transform="translate(1570.2 831.0) scale(1.0068 1)" font-size="16.6" fill="#fff" textLength="29.8" lengthAdjust="spacing" stroke="#fff" stroke-width="0.75">Oct</text>
<text transform="translate(1708.7 831.0) scale(0.9824 1)" font-size="16.6" fill="#fff" textLength="33.6" lengthAdjust="spacing" stroke="#fff" stroke-width="0.75">Nov</text>
<text transform="translate(1849.2 831.0) scale(0.9485 1)" font-size="16.6" fill="#fff" textLength="33.7" lengthAdjust="spacing" stroke="#fff" stroke-width="0.75">Dec</text>
<!-- pie -->
<text x="2230.6" y="369.0" font-size="24" fill="#fff" textLength="261.5" lengthAdjust="spacingAndGlyphs" font-weight="bold" stroke="#fff" stroke-width="0.5">DISTRIBUCIÓN POR PAÍS</text>
<defs>
<clipPath id="pc_col"><path d="M2585.78 618.13 A223.3 223.3 0 0 1 2575.11 689.51 L2468.66 655.34 A111.5 111.5 0 0 0 2473.99 619.69 Z"/></clipPath>
<clipPath id="pc_esp"><path d="M2575.11 689.51 A223.3 223.3 0 0 1 2431.50 833.62 L2396.96 727.29 A111.5 111.5 0 0 0 2468.66 655.34 Z"/></clipPath>
<clipPath id="pc_ita"><path d="M2431.50 833.62 A223.3 223.3 0 0 1 2181.85 752.50 L2272.29 686.79 A111.5 111.5 0 0 0 2396.96 727.29 Z"/></clipPath>
<clipPath id="pc_mex"><path d="M2181.85 752.50 A223.3 223.3 0 1 1 2585.78 618.13 L2473.99 619.69 A111.5 111.5 0 1 0 2272.29 686.79 Z"/></clipPath>
</defs>
<path d="M2585.78 618.13 A223.3 223.3 0 0 1 2575.11 689.51 L2468.66 655.34 A111.5 111.5 0 0 0 2473.99 619.69 Z" fill="#7efca4"/>
<path d="M2585.78 618.13 A223.3 223.3 0 0 1 2575.11 689.51 L2468.66 655.34 A111.5 111.5 0 0 0 2473.99 619.69 Z" fill="none" stroke="#6fe896" stroke-width="15" stroke-linejoin="miter" clip-path="url(#pc_col)"/>
<path d="M2575.11 689.51 A223.3 223.3 0 0 1 2431.50 833.62 L2396.96 727.29 A111.5 111.5 0 0 0 2468.66 655.34 Z" fill="#438959"/>
<path d="M2575.11 689.51 A223.3 223.3 0 0 1 2431.50 833.62 L2396.96 727.29 A111.5 111.5 0 0 0 2468.66 655.34 Z" fill="none" stroke="#3d7d51" stroke-width="15" stroke-linejoin="miter" clip-path="url(#pc_esp)"/>
<path d="M2431.50 833.62 A223.3 223.3 0 0 1 2181.85 752.50 L2272.29 686.79 A111.5 111.5 0 0 0 2396.96 727.29 Z" fill="#57b075"/>
<path d="M2431.50 833.62 A223.3 223.3 0 0 1 2181.85 752.50 L2272.29 686.79 A111.5 111.5 0 0 0 2396.96 727.29 Z" fill="none" stroke="#4fa26b" stroke-width="15" stroke-linejoin="miter" clip-path="url(#pc_ita)"/>
<path d="M2181.85 752.50 A223.3 223.3 0 1 1 2585.78 618.13 L2473.99 619.69 A111.5 111.5 0 1 0 2272.29 686.79 Z" fill="#6bdb8e"/>
<path d="M2181.85 752.50 A223.3 223.3 0 1 1 2585.78 618.13 L2473.99 619.69 A111.5 111.5 0 1 0 2272.29 686.79 Z" fill="none" stroke="#5fc980" stroke-width="15" stroke-linejoin="miter" clip-path="url(#pc_mex)"/>
<text x="2278.8" y="456.6" font-size="20.8" fill="#0d1f14" textLength="60.5" lengthAdjust="spacingAndGlyphs" font-weight="bold" stroke="#0d1f14" stroke-width="0.7">México</text>
<text x="2290.8" y="482.8" font-size="20.8" fill="#0d1f14" textLength="36.5" lengthAdjust="spacingAndGlyphs" font-weight="bold" stroke="#0d1f14" stroke-width="0.7">60%</text>
<text x="2485.8" y="640.3" font-size="20.8" fill="#0d1f14" textLength="84.0" lengthAdjust="spacingAndGlyphs" font-weight="bold" stroke="#0d1f14" stroke-width="0.7">Colombia</text>
<text x="2514.6" y="666.5" font-size="20.8" fill="#0d1f14" textLength="26.5" lengthAdjust="spacingAndGlyphs" font-weight="bold" stroke="#0d1f14" stroke-width="0.7">5%</text>
<text x="2449.1" y="735.3" font-size="20.8" fill="#0d1f14" textLength="62.5" lengthAdjust="spacingAndGlyphs" font-weight="bold" stroke="#0d1f14" stroke-width="0.7">España</text>
<text x="2462.3" y="761.5" font-size="20.8" fill="#0d1f14" textLength="36.0" lengthAdjust="spacingAndGlyphs" font-weight="bold" stroke="#0d1f14" stroke-width="0.7">15%</text>
<text x="2289.2" y="775.3" font-size="20.8" fill="#0d1f14" textLength="43.5" lengthAdjust="spacingAndGlyphs" font-weight="bold" stroke="#0d1f14" stroke-width="0.7">Italia</text>
<text x="2292.2" y="801.5" font-size="20.8" fill="#0d1f14" textLength="37.5" lengthAdjust="spacingAndGlyphs" font-weight="bold" stroke="#0d1f14" stroke-width="0.7">20%</text>
<!-- kpi -->
<text x="2958.6" y="370.2" font-size="24" fill="#fff" textLength="168.4" lengthAdjust="spacingAndGlyphs" font-weight="bold" stroke="#fff" stroke-width="0.5">VENTAS TOTALES</text>
<text x="2829.3" y="462.0" font-size="73.6" fill="#67db8b" textLength="403.5" lengthAdjust="spacingAndGlyphs" font-weight="bold" stroke="#67db8b" stroke-width="1.6" stroke-linejoin="round">$14,433,647</text>
<text x="2838.6" y="599.2" font-size="24" fill="#fff" textLength="380.0" lengthAdjust="spacingAndGlyphs" font-weight="bold" stroke="#fff" stroke-width="0.5">DISTRIBUCIÓN SEGMENTO MAYORISTA</text>
<path d="M2825.7 779.8 A228.8 228.8 0 0 1 3270.6000000000004 855.0 L3168.2000000000003 855.0 A126.4 126.4 0 0 0 2922.4 813.4 Z" fill="#458b5d" stroke="#1c2c23" stroke-width="2.4" stroke-linejoin="round"/>
<path d="M2813.0 855.0 A228.8 228.8 0 0 1 2825.7 779.8 L2922.4 813.4 A126.4 126.4 0 0 0 2915.4 855.0 Z" fill="#75f29d" stroke="#1c2c23" stroke-width="2.8" stroke-linejoin="round"/>
<text x="2835.8" y="831.2" font-size="17.4" fill="#2c4536" textLength="59.5" lengthAdjust="spacingAndGlyphs" font-weight="bold" stroke="#2c4536" stroke-width="0.4">10.66%</text>
<!-- combo -->
<text transform="translate(429.5 982.8) scale(0.8759 1)" font-size="22.8" fill="#fff" font-weight="bold" textLength="503.5" lengthAdjust="spacing" stroke="#fff" stroke-width="0.85" stroke-linejoin="round">SUMA DE IMPORTE VS MES ANTERIOR</text>
<rect x="244.25" y="1426.8" width="825.0" height="1.6" fill="#66676b"/>
<rect x="244.25" y="1344.3" width="825.0" height="1.6" fill="#66676b"/>
<rect x="244.25" y="1261.8" width="825.0" height="1.6" fill="#66676b"/>
<rect x="244.25" y="1179.2" width="825.0" height="1.6" fill="#66676b"/>
<rect x="244.25" y="1096.7" width="825.0" height="1.6" fill="#66676b"/>
<rect x="244.25" y="1014.2" width="825.0" height="1.6" fill="#66676b"/>
<rect x="243.4" y="1015.0" width="1.6" height="495.1" fill="#66676b"/>
<rect x="312.2" y="1015.0" width="1.6" height="495.1" fill="#66676b"/>
<rect x="380.9" y="1015.0" width="1.6" height="495.1" fill="#66676b"/>
<rect x="449.7" y="1015.0" width="1.6" height="495.1" fill="#66676b"/>
<rect x="518.5" y="1015.0" width="1.6" height="495.1" fill="#66676b"/>
<rect x="587.2" y="1015.0" width="1.6" height="495.1" fill="#66676b"/>
<rect x="656.0" y="1015.0" width="1.6" height="495.1" fill="#66676b"/>
<rect x="724.7" y="1015.0" width="1.6" height="495.1" fill="#66676b"/>
<rect x="793.5" y="1015.0" width="1.6" height="495.1" fill="#66676b"/>
<rect x="862.2" y="1015.0" width="1.6" height="495.1" fill="#66676b"/>
<rect x="931.0" y="1015.0" width="1.6" height="495.1" fill="#66676b"/>
<rect x="999.7" y="1015.0" width="1.6" height="495.1" fill="#66676b"/>
<rect x="1068.5" y="1015.0" width="1.6" height="495.1" fill="#66676b"/>
<rect x="264.9" y="1168.8" width="27.4" height="341.3" fill="#438c5b"/>
<rect x="333.7" y="1313.4" width="27.4" height="196.7" fill="#438c5b"/>
<rect x="402.4" y="1124.9" width="27.4" height="385.2" fill="#438c5b"/>
<rect x="471.2" y="1213.0" width="27.4" height="297.1" fill="#438c5b"/>
<rect x="539.9" y="1253.3" width="27.4" height="256.8" fill="#438c5b"/>
<rect x="608.7" y="1176.4" width="27.4" height="333.7" fill="#438c5b"/>
<rect x="677.4" y="1164.7" width="27.4" height="345.4" fill="#438c5b"/>
<rect x="746.2" y="1212.7" width="27.4" height="297.4" fill="#438c5b"/>
<rect x="814.9" y="1143.9" width="27.4" height="366.2" fill="#438c5b"/>
<rect x="883.7" y="1073.6" width="27.4" height="436.5" fill="#438c5b"/>
<rect x="952.4" y="1132.7" width="27.4" height="377.4" fill="#438c5b"/>
<rect x="1021.2" y="1132.7" width="27.4" height="377.4" fill="#438c5b"/>
<rect x="243.4" y="1509.0" width="826.6" height="2.2" fill="#fff"/>
<rect x="243.3" y="1510.1" width="1.8" height="5.5" fill="#fff"/>
<rect x="312.1" y="1510.1" width="1.8" height="5.5" fill="#fff"/>
<rect x="380.9" y="1510.1" width="1.8" height="5.5" fill="#fff"/>
<rect x="449.6" y="1510.1" width="1.8" height="5.5" fill="#fff"/>
<rect x="518.4" y="1510.1" width="1.8" height="5.5" fill="#fff"/>
<rect x="587.1" y="1510.1" width="1.8" height="5.5" fill="#fff"/>
<rect x="655.9" y="1510.1" width="1.8" height="5.5" fill="#fff"/>
<rect x="724.6" y="1510.1" width="1.8" height="5.5" fill="#fff"/>
<rect x="793.4" y="1510.1" width="1.8" height="5.5" fill="#fff"/>
<rect x="862.1" y="1510.1" width="1.8" height="5.5" fill="#fff"/>
<rect x="930.9" y="1510.1" width="1.8" height="5.5" fill="#fff"/>
<rect x="999.6" y="1510.1" width="1.8" height="5.5" fill="#fff"/>
<rect x="1068.3" y="1510.1" width="1.8" height="5.5" fill="#fff"/>
<polyline points="347.4,1485.5 416.1,1085.9 484.9,1417.8 553.6,1360.4 622.4,1219.8 691.1,1298.0 759.9,1369.7 828.6,1229.5 897.4,1227.7 966.1,1383.0 1034.9,1312.1" fill="none" stroke="#74f4a0" stroke-width="3.8" stroke-linejoin="round"/>
<circle cx="347.4" cy="1485.5" r="6.6" fill="#74f4a0"/>
<circle cx="416.1" cy="1085.9" r="6.6" fill="#74f4a0"/>
<circle cx="484.9" cy="1417.8" r="6.6" fill="#74f4a0"/>
<circle cx="553.6" cy="1360.4" r="6.6" fill="#74f4a0"/>
<circle cx="622.4" cy="1219.8" r="6.6" fill="#74f4a0"/>
<circle cx="691.1" cy="1298.0" r="6.6" fill="#74f4a0"/>
<circle cx="759.9" cy="1369.7" r="6.6" fill="#74f4a0"/>
<circle cx="828.6" cy="1229.5" r="6.6" fill="#74f4a0"/>
<circle cx="897.4" cy="1227.7" r="6.6" fill="#74f4a0"/>
<circle cx="966.1" cy="1383.0" r="6.6" fill="#74f4a0"/>
<circle cx="1034.9" cy="1312.1" r="6.6" fill="#74f4a0"/>
<text x="118.7" y="1514.0" font-size="17.4" fill="#fff" textLength="104.3" lengthAdjust="spacingAndGlyphs" font-weight="bold">$1,000,000.00</text>
<text x="118.7" y="1431.5" font-size="17.4" fill="#fff" textLength="104.3" lengthAdjust="spacingAndGlyphs" font-weight="bold">$1,050,000.00</text>
<text x="118.7" y="1349.0" font-size="17.4" fill="#fff" textLength="104.3" lengthAdjust="spacingAndGlyphs" font-weight="bold">$1,100,000.00</text>
<text x="118.7" y="1266.5" font-size="17.4" fill="#fff" textLength="104.3" lengthAdjust="spacingAndGlyphs" font-weight="bold">$1,150,000.00</text>
<text x="118.7" y="1183.9" font-size="17.4" fill="#fff" textLength="104.3" lengthAdjust="spacingAndGlyphs" font-weight="bold">$1,200,000.00</text>
<text x="118.7" y="1101.4" font-size="17.4" fill="#fff" textLength="104.3" lengthAdjust="spacingAndGlyphs" font-weight="bold">$1,250,000.00</text>
<text x="118.7" y="1018.9" font-size="17.4" fill="#fff" textLength="104.3" lengthAdjust="spacingAndGlyphs" font-weight="bold">$1,300,000.00</text>
<text x="1085.3" y="1514.0" font-size="17.4" fill="#e8412c" textLength="97.3" lengthAdjust="spacingAndGlyphs">-$100,000.00</text>
<text x="1085.3" y="1415.0" font-size="17.4" fill="#e8412c" textLength="87.2" lengthAdjust="spacingAndGlyphs">-$50,000.00</text>
<text x="1085.3" y="1316.0" font-size="17.4" fill="#fff" textLength="41.0" lengthAdjust="spacingAndGlyphs" font-weight="bold">$0.00</text>
<text x="1085.3" y="1216.9" font-size="17.4" fill="#fff" textLength="83.0" lengthAdjust="spacingAndGlyphs" font-weight="bold">$50,000.00</text>
<text x="1085.3" y="1117.9" font-size="17.4" fill="#fff" textLength="91.0" lengthAdjust="spacingAndGlyphs" font-weight="bold">$100,000.00</text>
<text x="1085.3" y="1018.9" font-size="17.4" fill="#fff" textLength="91.0" lengthAdjust="spacingAndGlyphs" font-weight="bold">$150,000.00</text>
<text x="266.9" y="1537.2" font-size="16.6" fill="#fff" textLength="23.4" lengthAdjust="spacingAndGlyphs" stroke="#fff" stroke-width="0.4">Jan</text>
<text x="334.1" y="1537.2" font-size="16.6" fill="#fff" textLength="26.5" lengthAdjust="spacingAndGlyphs" stroke="#fff" stroke-width="0.4">Feb</text>
<text x="402.1" y="1537.2" font-size="16.6" fill="#fff" textLength="28.0" lengthAdjust="spacingAndGlyphs" stroke="#fff" stroke-width="0.4">Mar</text>
<text x="472.6" y="1537.2" font-size="16.6" fill="#fff" textLength="24.5" lengthAdjust="spacingAndGlyphs" stroke="#fff" stroke-width="0.4">Apr</text>
<text x="538.6" y="1537.2" font-size="16.6" fill="#fff" textLength="30.0" lengthAdjust="spacingAndGlyphs" stroke="#fff" stroke-width="0.4">May</text>
<text x="610.4" y="1537.2" font-size="16.6" fill="#fff" textLength="24.0" lengthAdjust="spacingAndGlyphs" stroke="#fff" stroke-width="0.4">Jun</text>
<text x="681.6" y="1537.2" font-size="16.6" fill="#fff" textLength="19.0" lengthAdjust="spacingAndGlyphs" stroke="#fff" stroke-width="0.4">Jul</text>
<text x="746.1" y="1537.2" font-size="16.6" fill="#fff" textLength="27.5" lengthAdjust="spacingAndGlyphs" stroke="#fff" stroke-width="0.4">Aug</text>
<text x="814.9" y="1537.2" font-size="16.6" fill="#fff" textLength="27.5" lengthAdjust="spacingAndGlyphs" stroke="#fff" stroke-width="0.4">Sep</text>
<text x="884.6" y="1537.2" font-size="16.6" fill="#fff" textLength="25.5" lengthAdjust="spacingAndGlyphs" stroke="#fff" stroke-width="0.4">Oct</text>
<text x="952.1" y="1537.2" font-size="16.6" fill="#fff" textLength="28.0" lengthAdjust="spacingAndGlyphs" stroke="#fff" stroke-width="0.4">Nov</text>
<text x="1021.4" y="1537.2" font-size="16.6" fill="#fff" textLength="27.0" lengthAdjust="spacingAndGlyphs" stroke="#fff" stroke-width="0.4">Dec</text>
<rect x="434" y="1569.8" width="37.3" height="10.8" fill="#438c5b"/>
<text x="475.7" y="1580.2" font-size="18" fill="#fff" textLength="135.8" lengthAdjust="spacingAndGlyphs" stroke="#fff" stroke-width="0.4">Suma de Importe</text>
<rect x="644.3" y="1573.4" width="41" height="3.8" fill="#74f4a0"/><circle cx="665.2" cy="1575.3" r="6.6" fill="#74f4a0"/>
<text x="688.0" y="1580.2" font-size="18" fill="#fff" textLength="185.7" lengthAdjust="spacingAndGlyphs" stroke="#fff" stroke-width="0.4">Diferencia mes anterior</text>
<!-- top5 -->
<text transform="translate(1377.0 995.8) scale(0.8497 1)" font-size="22.8" fill="#fff" font-weight="bold" textLength="577.3" lengthAdjust="spacing" stroke="#fff" stroke-width="0.85" stroke-linejoin="round">TOP 5 PRODUCTOS POR SUMA DE IMPORTE</text>
<rect x="1636.0" y="1028.5" width="1.6" height="518" fill="#6a6b6f"/>
<rect x="1702.4" y="1028.5" width="1.6" height="518" fill="#6a6b6f"/>
<rect x="1768.7" y="1028.5" width="1.6" height="518" fill="#6a6b6f"/>
<rect x="1835.0" y="1028.5" width="1.6" height="518" fill="#6a6b6f"/>
<rect x="1901.4" y="1028.5" width="1.6" height="518" fill="#6a6b6f"/>
<rect x="1570.5" y="1066.2" width="87.5" height="27.4" fill="#7dfba3"/>
<text transform="translate(1345.3 1085.6) scale(0.8002 1)" font-size="16.4" fill="#fff" textLength="261.2" lengthAdjust="spacing" stroke="#fff" stroke-width="0.6">AUDÍFONOS ELECTRÓNICA</text>
<rect x="1570.5" y="1170.2" width="177.6" height="27.4" fill="#7dfba3"/>
<text transform="translate(1394.7 1189.6) scale(0.8131 1)" font-size="16.4" fill="#fff" textLength="196.3" lengthAdjust="spacing" stroke="#fff" stroke-width="0.6">CUADERNO OFICINA</text>
<rect x="1570.5" y="1274.2" width="187.3" height="27.4" fill="#7dfba3"/>
<text transform="translate(1415.3 1293.6) scale(0.7728 1)" font-size="16.4" fill="#fff" textLength="179.9" lengthAdjust="spacing" stroke="#fff" stroke-width="0.6">CAFETERA HOGAR</text>
<rect x="1570.5" y="1378.2" width="258.7" height="27.4" fill="#7dfba3"/>
<text transform="translate(1448.8 1397.6) scale(0.7983 1)" font-size="16.4" fill="#fff" textLength="132.2" lengthAdjust="spacing" stroke="#fff" stroke-width="0.6">GORRA MODA</text>
<rect x="1570.5" y="1482.2" width="285.2" height="27.4" fill="#7dfba3"/>
<text transform="translate(1304.3 1501.6) scale(0.7661 1)" font-size="16.4" fill="#fff" textLength="326.3" lengthAdjust="spacing" stroke="#fff" stroke-width="0.6">GESTOR PROYECTOS SOFTWARE</text>
<rect x="1569.8" y="1024.8" width="1.4" height="521.7" fill="#8fe3a9"/>
<text x="1538.5" y="1573.0" font-size="15.2" fill="#fff" textLength="60.0" lengthAdjust="spacingAndGlyphs" font-weight="bold">$700,000</text>
<text x="1604.8" y="1573.0" font-size="15.2" fill="#fff" textLength="60.0" lengthAdjust="spacingAndGlyphs" font-weight="bold">$740,000</text>
<text x="1671.2" y="1573.0" font-size="15.2" fill="#fff" textLength="60.0" lengthAdjust="spacingAndGlyphs" font-weight="bold">$780,000</text>
<text x="1737.5" y="1573.0" font-size="15.2" fill="#fff" textLength="60.0" lengthAdjust="spacingAndGlyphs" font-weight="bold">$820,000</text>
<text x="1803.8" y="1573.0" font-size="15.2" fill="#fff" textLength="60.0" lengthAdjust="spacingAndGlyphs" font-weight="bold">$860,000</text>
<text x="1870.2" y="1573.0" font-size="15.2" fill="#fff" textLength="60.0" lengthAdjust="spacingAndGlyphs" font-weight="bold">$900,000</text>
<!-- worldmap -->
<defs><clipPath id="mapclip"><rect x="2044" y="926" width="1284" height="687.5"/></clipPath><linearGradient id="leg" x1="0" y1="0" x2="0" y2="1"><stop offset="0" stop-color="#7dfba3"/><stop offset="1" stop-color="#3f8055"/></linearGradient></defs>
<g clip-path="url(#mapclip)">
<path d="M2161.0 1050.9 L2165.7 1036.8 L2176.6 1031.4 L2197.0 1020.2 L2211.0 1023.0 L2233.0 1027.0 L2245.5 1029.7 L2264.2 1031.9 L2279.9 1027.0 L2286.2 1025.3 L2297.1 1030.3 L2311.2 1030.8 L2326.9 1037.3 L2331.5 1040.0 L2345.6 1038.9 L2348.8 1035.7 L2358.2 1036.8 L2369.1 1039.5 L2380.1 1038.4 L2386.3 1041.1 L2387.9 1033.0 L2392.6 1017.3 L2398.8 1024.7 L2402.0 1031.4 L2411.4 1035.7 L2411.4 1042.1 L2417.6 1038.4 L2420.8 1030.3 L2430.1 1030.3 L2432.3 1038.4 L2428.6 1046.3 L2419.2 1047.3 L2414.5 1056.5 L2403.5 1061.4 L2395.7 1068.7 L2391.0 1078.2 L2390.4 1083.7 L2396.6 1090.9 L2405.1 1091.8 L2414.5 1096.2 L2420.8 1099.2 L2429.2 1100.1 L2429.5 1109.1 L2433.3 1114.1 L2437.0 1116.6 L2440.2 1112.0 L2438.9 1102.7 L2445.2 1094.0 L2446.4 1088.2 L2441.1 1083.7 L2444.2 1076.8 L2442.7 1066.8 L2455.2 1067.8 L2463.0 1072.1 L2468.3 1073.5 L2469.3 1082.8 L2475.5 1085.5 L2480.2 1083.7 L2484.6 1076.3 L2489.6 1085.0 L2494.3 1093.1 L2499.0 1098.4 L2506.5 1102.7 L2511.5 1109.1 L2512.1 1113.2 L2503.7 1116.1 L2499.0 1120.6 L2489.6 1120.2 L2478.7 1120.6 L2470.8 1127.5 L2464.6 1133.8 L2472.4 1128.3 L2483.4 1124.7 L2485.5 1128.3 L2481.8 1130.7 L2484.0 1136.1 L2491.2 1138.5 L2498.1 1133.4 L2499.0 1138.1 L2494.9 1140.4 L2487.7 1143.1 L2480.8 1146.5 L2479.6 1143.5 L2484.3 1139.6 L2477.1 1140.8 L2472.4 1143.9 L2467.1 1146.5 L2465.2 1151.4 L2467.7 1153.6 L2463.0 1154.8 L2455.2 1157.7 L2454.6 1161.7 L2451.4 1165.0 L2449.9 1169.7 L2448.0 1171.1 L2449.5 1176.8 L2445.8 1179.6 L2441.1 1182.1 L2436.4 1186.6 L2432.3 1191.7 L2432.0 1196.8 L2435.1 1203.6 L2436.1 1209.3 L2433.9 1211.6 L2431.1 1208.6 L2427.9 1202.6 L2427.6 1197.9 L2423.9 1195.1 L2419.2 1195.8 L2412.9 1193.8 L2408.2 1194.1 L2407.3 1197.9 L2402.6 1197.9 L2394.1 1196.2 L2389.5 1197.5 L2383.2 1201.9 L2381.9 1206.9 L2382.6 1208.9 L2380.7 1220.1 L2382.6 1226.6 L2386.3 1231.5 L2390.4 1234.0 L2397.3 1232.8 L2402.0 1231.5 L2403.5 1225.0 L2409.8 1223.4 L2414.5 1223.4 L2412.9 1229.9 L2412.0 1233.7 L2410.4 1233.4 L2410.4 1239.5 L2408.5 1241.7 L2416.1 1241.7 L2423.9 1241.7 L2426.4 1244.6 L2425.4 1252.2 L2424.8 1256.9 L2427.9 1261.3 L2431.7 1263.5 L2437.7 1261.3 L2441.1 1261.9 L2444.5 1264.1 L2443.0 1268.8 L2441.1 1265.4 L2438.0 1263.5 L2435.5 1265.7 L2435.1 1268.5 L2431.4 1267.2 L2427.0 1265.4 L2424.8 1263.2 L2418.6 1260.0 L2418.2 1256.9 L2413.2 1250.9 L2409.8 1250.0 L2405.1 1248.1 L2398.2 1245.8 L2391.6 1240.4 L2384.8 1242.0 L2378.5 1240.1 L2373.8 1237.9 L2367.5 1235.0 L2359.7 1230.5 L2356.3 1226.6 L2356.9 1222.4 L2353.5 1217.2 L2348.8 1211.9 L2344.1 1206.6 L2339.4 1201.9 L2334.7 1196.8 L2332.5 1191.1 L2327.5 1189.3 L2327.8 1194.5 L2331.5 1199.2 L2334.4 1203.6 L2337.8 1208.6 L2340.9 1214.2 L2344.1 1218.2 L2341.9 1217.5 L2336.2 1212.6 L2335.3 1207.9 L2329.4 1204.3 L2328.4 1200.2 L2324.3 1195.8 L2322.2 1190.7 L2320.3 1186.6 L2315.9 1181.4 L2309.3 1179.3 L2305.3 1172.2 L2303.4 1167.9 L2299.3 1161.7 L2297.7 1158.4 L2298.1 1152.5 L2297.1 1148.8 L2298.7 1141.9 L2298.7 1136.1 L2296.5 1127.9 L2302.4 1128.7 L2303.4 1132.2 L2302.4 1125.5 L2297.1 1121.5 L2289.3 1117.4 L2286.2 1111.2 L2279.9 1104.0 L2278.3 1100.5 L2273.6 1095.3 L2268.9 1089.6 L2262.7 1084.1 L2256.4 1084.1 L2250.2 1079.1 L2242.3 1078.2 L2234.5 1077.2 L2228.3 1073.5 L2222.0 1076.8 L2217.3 1072.5 L2211.7 1081.4 L2206.3 1081.4 L2203.8 1087.3 L2197.0 1090.9 L2190.7 1095.3 L2184.4 1098.8 L2176.6 1101.4 L2171.0 1102.7 L2178.2 1097.1 L2184.4 1094.0 L2192.3 1089.1 L2194.5 1083.7 L2189.1 1084.6 L2179.7 1083.7 L2179.7 1078.6 L2171.9 1076.8 L2168.8 1070.2 L2170.4 1064.9 L2176.6 1062.4 L2182.9 1059.0 L2182.9 1054.5 L2175.0 1056.5 L2165.7 1055.5 L2161.0 1050.9Z M2458.3 977.5 L2474.0 965.0 L2480.2 957.8 L2499.0 950.4 L2530.3 947.4 L2549.1 942.0 L2577.2 938.1 L2602.3 940.5 L2617.9 946.6 L2611.7 951.9 L2633.6 954.2 L2649.2 953.4 L2633.6 965.0 L2625.8 975.4 L2628.9 985.4 L2621.1 991.9 L2625.8 1001.3 L2617.9 1007.3 L2611.7 1014.4 L2617.9 1019.1 L2616.4 1025.9 L2607.0 1027.5 L2613.2 1031.9 L2605.4 1035.7 L2594.5 1037.3 L2586.6 1038.4 L2580.4 1046.3 L2571.0 1050.4 L2561.6 1053.0 L2558.5 1061.4 L2553.8 1068.7 L2552.2 1076.8 L2546.6 1078.6 L2542.8 1074.4 L2535.0 1072.1 L2530.3 1063.9 L2525.6 1056.5 L2520.9 1048.9 L2519.3 1041.1 L2522.5 1035.7 L2527.2 1030.3 L2516.2 1029.7 L2516.2 1023.0 L2524.0 1020.8 L2514.7 1014.4 L2511.5 1004.3 L2505.3 996.3 L2495.9 991.2 L2483.4 991.2 L2470.8 991.2 L2464.6 984.1 L2458.3 977.5Z M2444.5 1264.1 L2446.4 1266.3 L2449.9 1261.6 L2451.1 1257.8 L2454.6 1256.3 L2458.3 1255.6 L2463.0 1252.5 L2462.1 1255.3 L2463.6 1257.5 L2467.1 1254.7 L2473.3 1258.1 L2480.2 1258.1 L2484.9 1259.4 L2491.2 1257.8 L2495.9 1260.7 L2499.0 1264.7 L2503.7 1269.4 L2508.4 1272.5 L2514.7 1272.5 L2517.8 1273.2 L2524.0 1276.3 L2527.2 1278.8 L2530.3 1285.6 L2529.4 1290.6 L2535.0 1292.8 L2536.6 1294.3 L2542.8 1294.9 L2547.5 1299.0 L2555.3 1299.9 L2561.6 1299.9 L2566.3 1303.0 L2571.0 1306.1 L2576.6 1307.7 L2577.9 1314.5 L2576.3 1320.2 L2571.0 1326.5 L2566.3 1331.8 L2564.7 1338.1 L2564.7 1346.8 L2561.6 1354.2 L2558.5 1360.6 L2552.2 1363.9 L2546.9 1364.9 L2541.3 1367.9 L2535.6 1372.5 L2534.4 1382.2 L2528.7 1390.7 L2523.1 1395.8 L2519.3 1401.0 L2514.7 1404.2 L2507.8 1402.8 L2504.0 1401.0 L2507.5 1406.3 L2508.4 1410.9 L2505.3 1416.7 L2499.0 1418.5 L2492.1 1418.8 L2491.8 1425.4 L2483.4 1426.2 L2485.5 1431.7 L2482.4 1435.5 L2481.8 1441.2 L2475.5 1445.1 L2475.5 1448.2 L2480.2 1452.1 L2474.9 1460.1 L2470.8 1464.2 L2472.4 1470.4 L2478.7 1477.6 L2482.4 1481.0 L2477.1 1483.2 L2470.8 1484.0 L2463.0 1478.9 L2456.7 1473.3 L2452.7 1469.2 L2451.1 1460.9 L2450.5 1452.9 L2453.6 1445.1 L2456.7 1437.4 L2458.3 1429.9 L2456.1 1422.5 L2456.7 1415.2 L2458.3 1409.8 L2461.4 1402.8 L2463.0 1394.1 L2463.0 1383.9 L2465.2 1373.8 L2466.8 1363.9 L2467.1 1354.2 L2466.4 1348.7 L2463.0 1345.5 L2456.7 1342.0 L2448.9 1335.0 L2445.2 1328.7 L2441.1 1322.4 L2438.0 1316.1 L2433.9 1310.8 L2432.6 1305.2 L2435.8 1301.5 L2433.9 1297.4 L2433.9 1294.3 L2436.4 1289.6 L2440.2 1286.5 L2444.2 1283.1 L2444.9 1278.8 L2444.2 1274.1 L2444.2 1270.0 L2443.0 1268.8 L2444.5 1264.1Z M2632.0 1245.2 L2635.2 1239.5 L2635.8 1231.5 L2633.6 1225.0 L2636.7 1216.8 L2641.4 1208.6 L2646.1 1202.9 L2652.4 1199.2 L2656.1 1195.1 L2656.1 1190.0 L2660.2 1183.8 L2665.5 1180.7 L2668.3 1175.0 L2672.7 1177.2 L2680.5 1177.2 L2686.8 1174.7 L2696.2 1171.5 L2705.6 1171.1 L2713.4 1171.1 L2718.1 1169.7 L2721.2 1171.5 L2719.0 1176.1 L2720.6 1181.4 L2722.8 1184.2 L2727.5 1185.2 L2733.8 1187.3 L2738.4 1191.1 L2746.3 1194.1 L2749.4 1191.7 L2749.4 1185.9 L2755.7 1185.2 L2760.4 1187.6 L2765.1 1189.3 L2772.9 1191.1 L2777.6 1191.7 L2783.8 1190.0 L2787.9 1190.7 L2793.8 1190.7 L2796.0 1196.8 L2794.2 1202.6 L2792.0 1201.2 L2788.8 1195.5 L2791.7 1203.6 L2797.9 1215.2 L2798.5 1218.5 L2803.2 1225.0 L2803.5 1232.4 L2807.3 1234.7 L2810.4 1242.7 L2815.1 1245.8 L2821.4 1252.2 L2822.3 1255.3 L2826.1 1258.5 L2833.9 1256.3 L2840.2 1255.9 L2847.1 1254.4 L2846.4 1258.5 L2844.9 1263.2 L2840.2 1271.0 L2835.5 1277.2 L2829.2 1284.1 L2824.5 1287.5 L2818.3 1294.3 L2815.1 1298.0 L2812.0 1302.1 L2810.4 1305.8 L2808.2 1310.8 L2809.8 1316.1 L2811.4 1322.4 L2813.6 1324.6 L2813.9 1331.8 L2813.6 1338.1 L2807.3 1345.2 L2802.0 1347.7 L2796.4 1353.5 L2797.9 1360.6 L2797.6 1367.2 L2790.1 1372.1 L2789.5 1377.1 L2788.5 1382.2 L2783.8 1387.3 L2781.6 1391.3 L2776.0 1396.5 L2771.3 1400.0 L2766.6 1401.0 L2757.2 1401.4 L2749.4 1403.8 L2744.1 1401.7 L2743.8 1395.8 L2740.9 1389.0 L2738.4 1382.2 L2734.7 1377.1 L2733.1 1370.5 L2732.2 1362.3 L2728.1 1355.8 L2724.4 1347.7 L2723.7 1341.3 L2725.9 1333.4 L2729.7 1329.6 L2729.7 1324.6 L2727.5 1319.2 L2725.3 1309.9 L2723.7 1305.2 L2718.1 1300.5 L2715.0 1294.3 L2716.2 1288.7 L2717.5 1284.1 L2716.5 1279.4 L2714.0 1277.2 L2708.7 1277.5 L2704.0 1277.5 L2700.3 1271.6 L2694.6 1271.6 L2689.9 1273.2 L2682.1 1275.7 L2677.4 1275.3 L2671.2 1275.3 L2663.3 1277.5 L2658.6 1275.7 L2653.9 1271.0 L2649.2 1267.9 L2645.5 1263.5 L2643.6 1260.7 L2639.9 1256.9 L2634.5 1252.8 L2634.2 1249.0 L2632.0 1245.2Z M2841.1 1328.7 L2843.3 1333.4 L2844.6 1339.7 L2842.4 1342.9 L2841.4 1347.7 L2838.6 1357.4 L2835.5 1368.8 L2832.3 1371.2 L2829.2 1372.1 L2824.5 1369.8 L2823.0 1363.9 L2823.6 1359.0 L2826.1 1354.2 L2824.5 1347.7 L2825.5 1342.9 L2831.7 1340.4 L2835.5 1336.6 L2838.6 1332.8 L2841.1 1328.7Z M2658.6 1170.8 L2659.3 1166.1 L2657.1 1164.3 L2659.3 1159.2 L2659.3 1153.3 L2657.7 1148.8 L2661.8 1146.1 L2669.6 1146.9 L2675.8 1146.9 L2681.2 1147.3 L2682.7 1143.1 L2683.0 1137.3 L2679.0 1132.2 L2672.7 1130.3 L2672.1 1127.9 L2677.4 1126.3 L2681.8 1126.7 L2681.5 1122.7 L2683.0 1123.9 L2687.4 1123.5 L2691.5 1120.6 L2691.8 1117.8 L2696.2 1116.1 L2699.3 1113.2 L2701.5 1109.1 L2705.6 1107.0 L2708.7 1106.5 L2713.7 1105.7 L2714.7 1103.1 L2713.7 1099.7 L2712.2 1097.9 L2712.5 1091.8 L2716.5 1090.9 L2719.7 1088.7 L2719.7 1094.0 L2718.7 1096.2 L2717.5 1099.7 L2716.5 1100.5 L2718.1 1102.7 L2721.2 1104.8 L2725.9 1103.1 L2730.6 1104.8 L2737.8 1102.7 L2744.7 1101.4 L2747.8 1103.1 L2749.4 1101.0 L2752.5 1098.4 L2752.5 1092.7 L2754.1 1089.6 L2757.2 1088.7 L2759.7 1091.8 L2762.9 1089.6 L2762.9 1086.0 L2760.4 1081.9 L2766.6 1080.5 L2774.4 1080.5 L2780.7 1078.6 L2776.0 1075.8 L2768.2 1076.3 L2763.5 1078.2 L2758.2 1078.6 L2753.5 1074.4 L2754.1 1068.7 L2753.2 1063.9 L2757.2 1060.0 L2763.5 1055.0 L2766.0 1051.4 L2761.9 1049.9 L2755.7 1050.4 L2753.5 1056.0 L2749.4 1061.0 L2744.7 1063.9 L2741.6 1067.8 L2740.6 1073.5 L2741.6 1075.4 L2745.6 1078.2 L2743.8 1081.9 L2739.4 1084.1 L2738.4 1088.2 L2737.5 1094.9 L2732.2 1096.2 L2731.6 1098.4 L2727.2 1098.8 L2726.6 1095.3 L2723.7 1089.6 L2721.9 1083.7 L2720.0 1080.5 L2716.5 1082.8 L2711.8 1086.9 L2708.1 1086.9 L2704.0 1083.2 L2703.1 1078.2 L2702.5 1073.5 L2703.1 1068.7 L2708.7 1064.9 L2713.4 1061.4 L2718.1 1059.0 L2721.2 1055.0 L2725.9 1048.9 L2729.1 1043.7 L2733.1 1038.4 L2738.4 1035.2 L2742.5 1031.4 L2747.8 1028.6 L2754.1 1027.0 L2760.4 1023.6 L2767.2 1021.3 L2772.9 1021.9 L2777.6 1023.0 L2783.8 1025.9 L2779.1 1028.6 L2785.4 1029.7 L2790.1 1031.4 L2797.9 1031.9 L2802.6 1033.6 L2810.4 1038.4 L2815.1 1041.1 L2815.1 1046.3 L2810.4 1047.9 L2805.7 1047.9 L2797.9 1046.3 L2793.2 1045.3 L2789.5 1046.3 L2795.4 1054.0 L2795.7 1057.0 L2802.6 1060.0 L2805.7 1057.5 L2803.5 1054.0 L2810.4 1056.0 L2812.6 1054.0 L2812.0 1049.9 L2818.9 1046.8 L2824.5 1047.3 L2825.1 1042.7 L2823.9 1036.8 L2830.8 1036.8 L2832.3 1039.5 L2829.2 1043.7 L2833.3 1044.7 L2837.0 1040.5 L2843.3 1037.3 L2852.7 1035.2 L2855.8 1036.8 L2862.1 1035.7 L2868.3 1033.6 L2874.6 1034.1 L2877.7 1030.3 L2875.5 1027.5 L2884.0 1029.7 L2890.2 1032.5 L2894.9 1034.1 L2901.2 1036.8 L2899.6 1031.4 L2896.5 1029.2 L2896.5 1021.9 L2901.2 1014.4 L2904.3 1010.3 L2910.6 1010.3 L2914.7 1013.3 L2912.8 1021.9 L2914.7 1027.5 L2913.7 1034.1 L2916.9 1036.8 L2917.8 1030.3 L2918.4 1021.9 L2915.3 1019.1 L2920.0 1013.3 L2923.1 1016.2 L2927.8 1015.0 L2930.9 1015.0 L2937.2 1010.3 L2940.3 1006.7 L2949.7 1006.1 L2959.1 1005.5 L2956.9 1000.7 L2962.2 996.9 L2968.5 994.4 L2981.0 991.9 L2993.5 990.0 L3002.9 985.4 L3013.3 980.8 L3018.6 983.5 L3024.8 986.7 L3035.8 988.7 L3040.5 993.2 L3037.4 998.2 L3029.5 1003.1 L3037.4 1005.5 L3043.6 1006.7 L3053.0 1007.3 L3059.3 1010.3 L3068.7 1010.3 L3074.9 1006.1 L3082.7 1007.3 L3085.9 1013.3 L3092.1 1019.1 L3093.7 1021.9 L3100.0 1017.9 L3103.1 1019.1 L3109.4 1019.1 L3117.2 1019.1 L3121.9 1014.4 L3125.0 1010.3 L3134.4 1012.1 L3143.8 1014.4 L3153.2 1015.6 L3156.3 1018.5 L3162.6 1021.9 L3165.7 1023.0 L3178.2 1021.9 L3187.6 1024.2 L3187.6 1029.2 L3197.0 1029.2 L3209.5 1029.2 L3214.2 1031.9 L3220.5 1033.0 L3222.0 1027.5 L3231.4 1028.6 L3237.7 1029.2 L3245.5 1031.4 L3250.2 1033.6 L3259.6 1037.3 L3269.0 1043.7 L3276.8 1047.3 L3282.1 1048.9 L3278.4 1052.5 L3273.7 1056.5 L3267.4 1057.5 L3262.7 1052.0 L3254.9 1049.9 L3247.1 1054.0 L3243.9 1057.5 L3247.1 1062.9 L3242.4 1066.3 L3236.1 1067.8 L3231.4 1070.2 L3225.2 1073.5 L3220.5 1078.2 L3212.6 1075.8 L3206.4 1078.2 L3202.6 1079.1 L3198.6 1085.0 L3194.5 1088.7 L3197.0 1093.1 L3193.9 1095.3 L3193.9 1101.4 L3189.2 1103.5 L3187.6 1109.1 L3182.3 1109.1 L3179.1 1114.5 L3177.0 1117.4 L3175.1 1109.1 L3173.8 1100.5 L3174.1 1092.7 L3176.6 1088.2 L3182.9 1085.0 L3187.6 1080.5 L3192.3 1076.8 L3198.6 1071.1 L3200.1 1066.3 L3193.9 1070.2 L3187.6 1070.2 L3181.3 1069.7 L3177.3 1071.1 L3172.0 1078.2 L3169.8 1081.4 L3162.6 1082.8 L3156.3 1080.5 L3150.0 1080.9 L3142.2 1081.4 L3134.4 1081.4 L3128.1 1085.0 L3121.9 1091.8 L3115.6 1100.5 L3110.9 1101.8 L3115.6 1105.3 L3120.3 1106.1 L3125.0 1104.8 L3128.8 1109.1 L3126.6 1117.4 L3126.6 1123.5 L3125.0 1129.5 L3121.9 1134.2 L3118.7 1137.3 L3114.0 1143.1 L3109.4 1147.6 L3103.1 1149.9 L3100.0 1148.0 L3095.9 1151.4 L3092.8 1156.2 L3089.0 1159.9 L3085.9 1160.6 L3088.4 1165.0 L3091.5 1170.8 L3091.8 1175.0 L3090.6 1177.5 L3085.9 1178.9 L3082.7 1180.0 L3082.1 1176.1 L3083.4 1170.8 L3079.0 1168.3 L3078.1 1165.4 L3078.7 1161.4 L3075.9 1159.9 L3068.7 1163.6 L3067.1 1158.1 L3062.4 1159.9 L3056.1 1162.8 L3055.2 1165.4 L3059.3 1169.0 L3064.9 1167.9 L3070.2 1169.7 L3065.5 1172.6 L3060.2 1177.9 L3063.3 1181.4 L3064.9 1186.6 L3068.0 1190.0 L3068.7 1193.4 L3067.1 1197.9 L3065.5 1201.9 L3061.8 1207.6 L3059.3 1211.2 L3054.6 1215.9 L3051.4 1218.5 L3045.2 1220.1 L3042.1 1221.1 L3035.8 1223.4 L3032.7 1224.0 L3031.1 1227.3 L3029.5 1223.4 L3024.8 1223.4 L3021.1 1226.6 L3017.6 1231.5 L3019.5 1234.7 L3023.3 1239.5 L3026.4 1241.1 L3028.6 1247.4 L3028.9 1252.2 L3028.0 1255.3 L3023.3 1258.5 L3020.8 1260.0 L3015.5 1264.1 L3015.5 1260.0 L3011.7 1258.5 L3009.2 1256.3 L3007.6 1253.1 L3002.9 1251.5 L3002.6 1249.0 L2999.8 1249.0 L2999.2 1253.7 L2997.6 1256.9 L2997.6 1262.5 L3000.7 1266.3 L3001.4 1268.8 L3005.4 1271.0 L3009.2 1274.1 L3010.8 1278.8 L3010.8 1282.5 L3012.9 1286.9 L3010.8 1287.2 L3007.6 1285.0 L3003.9 1282.5 L3001.4 1277.2 L3000.7 1272.5 L2996.7 1267.9 L2994.5 1265.7 L2995.1 1260.7 L2995.7 1256.9 L2995.1 1252.2 L2993.5 1247.4 L2992.3 1239.5 L2989.8 1237.9 L2985.7 1241.7 L2982.0 1241.1 L2982.6 1236.3 L2979.5 1229.9 L2975.7 1225.7 L2973.2 1220.1 L2970.1 1221.8 L2965.4 1222.4 L2959.1 1223.4 L2958.5 1227.3 L2954.4 1229.2 L2949.7 1233.7 L2944.4 1239.5 L2938.8 1241.7 L2937.5 1245.8 L2938.1 1250.6 L2936.6 1255.3 L2936.6 1259.1 L2934.1 1262.2 L2931.6 1263.5 L2929.4 1266.3 L2926.2 1263.2 L2924.7 1258.5 L2921.6 1253.7 L2920.0 1249.0 L2919.4 1244.9 L2916.9 1239.5 L2915.3 1234.7 L2914.7 1229.9 L2914.7 1225.0 L2913.7 1223.4 L2907.5 1225.7 L2902.8 1220.8 L2905.9 1219.1 L2901.2 1216.8 L2897.4 1213.6 L2894.9 1210.6 L2888.7 1211.2 L2879.3 1211.6 L2871.5 1210.6 L2866.1 1209.9 L2863.6 1205.3 L2858.0 1206.9 L2852.7 1205.3 L2848.0 1202.6 L2844.9 1198.5 L2843.3 1195.1 L2839.5 1194.1 L2837.0 1195.8 L2838.6 1200.2 L2841.7 1204.3 L2843.9 1206.9 L2845.8 1212.6 L2848.0 1209.3 L2848.3 1213.6 L2852.7 1214.5 L2857.4 1214.5 L2860.5 1210.9 L2863.0 1207.9 L2863.3 1211.9 L2864.6 1214.5 L2869.9 1216.5 L2874.0 1220.1 L2872.4 1224.0 L2869.9 1226.9 L2867.4 1231.8 L2863.6 1234.7 L2859.6 1236.3 L2854.3 1238.8 L2849.6 1241.1 L2843.3 1244.3 L2839.2 1247.4 L2833.9 1249.6 L2827.7 1251.2 L2823.0 1251.5 L2821.4 1249.0 L2820.5 1244.9 L2820.5 1241.1 L2818.3 1237.9 L2815.1 1231.5 L2809.5 1225.0 L2808.9 1220.1 L2805.7 1215.2 L2803.5 1213.6 L2801.0 1208.6 L2796.4 1201.9 L2796.0 1196.8 L2794.8 1191.7 L2796.4 1184.8 L2799.2 1179.6 L2799.2 1176.1 L2800.1 1171.8 L2796.4 1171.8 L2793.2 1173.3 L2788.5 1173.6 L2783.8 1171.5 L2782.3 1173.3 L2777.6 1172.9 L2774.4 1171.8 L2772.2 1169.0 L2770.7 1165.4 L2769.1 1162.5 L2768.8 1159.9 L2771.3 1158.1 L2777.6 1157.7 L2778.5 1155.5 L2785.4 1155.1 L2791.7 1152.5 L2797.0 1152.5 L2801.0 1155.1 L2805.7 1156.2 L2810.4 1155.9 L2816.7 1154.4 L2817.3 1151.4 L2815.1 1148.8 L2811.1 1146.1 L2807.3 1143.9 L2804.2 1142.3 L2803.5 1139.6 L2805.7 1137.3 L2805.1 1134.6 L2808.9 1132.6 L2802.6 1133.4 L2797.3 1135.4 L2796.4 1138.5 L2801.0 1140.4 L2797.9 1141.2 L2793.2 1143.5 L2791.7 1141.2 L2789.2 1138.5 L2791.7 1136.9 L2786.3 1135.4 L2783.2 1135.4 L2780.1 1139.2 L2776.9 1143.1 L2776.0 1146.9 L2773.8 1149.5 L2774.8 1153.6 L2777.3 1155.5 L2772.9 1156.6 L2768.8 1157.7 L2765.1 1156.6 L2761.9 1157.0 L2761.3 1159.9 L2758.2 1158.1 L2758.2 1161.4 L2759.4 1162.8 L2758.8 1165.4 L2761.9 1167.2 L2759.4 1168.6 L2758.8 1172.6 L2756.6 1172.2 L2754.7 1171.5 L2753.2 1167.9 L2752.5 1164.3 L2750.0 1161.7 L2747.8 1158.1 L2747.8 1153.3 L2744.7 1150.7 L2740.0 1148.0 L2736.9 1146.5 L2733.8 1142.7 L2731.6 1140.4 L2729.7 1138.5 L2725.3 1140.0 L2725.3 1143.9 L2729.4 1146.9 L2731.2 1151.4 L2736.9 1152.9 L2741.6 1156.2 L2744.7 1159.2 L2744.1 1160.6 L2740.0 1158.1 L2738.8 1161.0 L2740.6 1163.6 L2738.4 1166.1 L2735.9 1167.5 L2736.9 1164.3 L2735.9 1159.9 L2732.2 1157.7 L2727.5 1155.5 L2723.4 1151.8 L2719.7 1149.2 L2718.7 1145.4 L2714.3 1143.5 L2710.3 1145.8 L2707.1 1148.4 L2701.8 1147.3 L2696.8 1148.0 L2696.8 1151.0 L2696.8 1152.9 L2693.1 1155.1 L2689.3 1157.0 L2685.9 1161.7 L2687.1 1164.7 L2684.6 1168.6 L2680.5 1171.5 L2672.7 1171.8 L2669.3 1174.3 L2667.1 1172.2 L2663.6 1170.1 L2658.6 1170.8Z M3043.6 1360.6 L3042.1 1367.2 L3041.4 1373.8 L3044.2 1378.8 L3046.8 1387.3 L3048.9 1394.1 L3046.8 1401.0 L3049.9 1404.5 L3056.1 1404.5 L3062.4 1401.0 L3068.7 1401.0 L3073.4 1400.7 L3081.2 1395.1 L3090.6 1393.1 L3098.4 1392.4 L3104.7 1394.8 L3106.8 1396.9 L3110.3 1402.8 L3112.5 1403.8 L3117.2 1397.6 L3118.1 1400.3 L3117.2 1405.2 L3120.3 1404.5 L3123.4 1408.1 L3125.0 1413.4 L3129.7 1416.7 L3136.0 1417.7 L3140.7 1416.3 L3144.7 1418.8 L3150.0 1414.5 L3156.3 1412.7 L3157.2 1406.3 L3160.4 1399.3 L3164.1 1394.1 L3165.7 1387.3 L3167.3 1382.2 L3166.6 1377.1 L3165.7 1372.1 L3161.9 1367.2 L3158.8 1363.9 L3154.7 1360.6 L3151.6 1355.1 L3146.9 1351.9 L3144.4 1349.3 L3143.8 1346.1 L3142.2 1341.3 L3141.6 1337.5 L3137.5 1335.9 L3136.0 1333.4 L3136.0 1330.2 L3133.8 1325.5 L3132.2 1324.9 L3130.3 1330.2 L3130.3 1335.0 L3129.7 1339.7 L3127.5 1346.1 L3123.4 1346.1 L3118.7 1343.6 L3115.6 1340.7 L3110.9 1338.1 L3112.5 1333.4 L3115.0 1329.3 L3110.9 1328.7 L3106.2 1328.7 L3101.5 1326.5 L3098.4 1329.6 L3095.3 1330.2 L3093.1 1334.3 L3092.1 1338.1 L3088.1 1337.5 L3086.8 1335.6 L3081.2 1335.0 L3078.1 1339.1 L3076.5 1342.3 L3073.4 1345.5 L3069.3 1345.2 L3068.7 1349.3 L3065.5 1352.5 L3059.3 1354.2 L3054.6 1356.1 L3051.4 1356.4 L3046.8 1359.0 L3043.6 1360.6Z M3139.7 1425.4 L3145.3 1426.5 L3150.7 1425.8 L3151.0 1429.9 L3150.0 1433.6 L3146.9 1435.5 L3143.8 1435.9 L3141.6 1431.7 L3139.7 1425.4Z M2123.4 1605.6 L2124.3 1607.0 L2173.5 1611.8 L2192.3 1602.9 L2214.2 1602.2 L2227.6 1592.4 L2263.0 1586.1 L2287.4 1583.0 L2290.2 1578.7 L2314.6 1581.1 L2339.1 1584.2 L2347.2 1589.9 L2369.1 1588.6 L2367.5 1573.9 L2385.4 1570.9 L2412.6 1577.5 L2434.2 1580.5 L2442.3 1575.1 L2461.4 1576.3 L2462.7 1565.1 L2450.5 1565.6 L2464.3 1554.3 L2474.9 1547.2 L2479.0 1539.2 L2488.7 1532.5 L2499.3 1524.9 L2507.8 1519.5 L2510.9 1523.9 L2500.9 1531.0 L2494.6 1539.7 L2495.2 1554.3 L2498.1 1568.0 L2495.2 1585.5 L2507.8 1592.4 L2529.4 1602.2 L2548.5 1609.0 L2575.7 1609.0 L2597.3 1598.3 L2608.2 1584.8 L2629.8 1576.3 L2654.2 1563.9 L2689.6 1558.8 L2711.8 1554.9 L2730.6 1554.9 L2749.4 1554.9 L2768.2 1556.5 L2787.0 1552.1 L2793.2 1548.3 L2805.7 1552.1 L2818.3 1544.0 L2830.8 1541.3 L2843.3 1537.7 L2855.8 1533.0 L2865.2 1536.1 L2874.6 1540.3 L2887.1 1541.3 L2899.6 1542.9 L2905.9 1548.3 L2915.3 1553.2 L2927.8 1551.0 L2937.2 1542.9 L2949.7 1537.7 L2962.2 1536.1 L2974.8 1536.1 L2987.3 1535.1 L2999.8 1533.5 L3012.3 1532.5 L3024.8 1536.1 L3037.4 1533.5 L3049.9 1537.7 L3062.4 1537.7 L3074.9 1536.1 L3087.4 1537.7 L3100.0 1533.5 L3112.5 1533.5 L3125.0 1536.1 L3137.5 1538.7 L3150.0 1544.0 L3162.6 1546.7 L3175.1 1549.4 L3187.6 1554.9 L3200.1 1557.7 L3212.6 1563.3 L3220.5 1566.2 L3215.8 1578.1 L3206.4 1587.3 L3200.1 1598.9 L3209.5 1603.6 L3225.2 1604.9 L3250.2 1605.6 L3281.5 1605.6 L3281.5 1664.1 L2123.4 1664.1Z M2436.4 1006.1 L2448.9 1011.5 L2464.6 1020.8 L2474.0 1026.4 L2477.1 1033.0 L2489.6 1042.1 L2494.3 1045.3 L2488.0 1054.0 L2483.4 1061.0 L2474.0 1066.3 L2464.6 1061.4 L2459.9 1057.5 L2442.7 1056.5 L2444.2 1052.5 L2455.2 1048.9 L2459.9 1042.1 L2453.6 1036.8 L2442.7 1027.5 L2430.1 1027.5 L2420.8 1027.5 L2409.8 1021.9 L2406.7 1013.3 L2411.4 1006.1 L2422.3 1007.9 L2436.4 1006.1Z M2405.1 988.7 L2420.8 983.5 L2436.4 990.0 L2444.2 985.4 L2448.9 975.4 L2461.4 968.6 L2480.2 961.5 L2492.7 946.6 L2474.0 942.8 L2452.1 942.0 L2420.8 947.4 L2398.8 955.6 L2411.4 962.9 L2420.8 969.9 L2414.5 978.8 L2405.1 988.7Z M2319.0 1027.5 L2330.0 1031.4 L2336.2 1035.2 L2348.8 1034.7 L2358.2 1034.1 L2369.1 1030.3 L2367.5 1023.0 L2358.2 1012.1 L2348.8 1009.1 L2342.5 1011.5 L2330.0 1008.5 L2317.5 1012.7 L2315.9 1019.6 L2319.0 1027.5Z M2295.6 1016.8 L2301.8 1020.8 L2309.6 1019.1 L2320.6 1013.3 L2323.7 1007.3 L2319.0 1002.5 L2308.1 1001.3 L2297.1 1004.3 L2295.6 1016.8Z M2398.8 1000.0 L2411.4 1001.3 L2436.4 1000.7 L2438.0 995.1 L2430.1 991.9 L2411.4 989.3 L2402.0 990.0 L2398.8 1000.0Z M2320.6 998.2 L2336.2 1001.3 L2355.0 998.8 L2356.6 993.2 L2345.6 987.4 L2330.0 987.4 L2320.6 991.9 L2320.6 998.2Z M2389.5 976.8 L2402.0 977.5 L2412.9 973.4 L2411.4 961.5 L2398.8 957.8 L2386.3 965.0 L2389.5 976.8Z M2373.8 1016.2 L2386.3 1019.1 L2384.8 1010.3 L2380.1 1004.3 L2369.1 1005.5 L2367.5 1011.5 L2373.8 1016.2Z M2376.9 995.1 L2392.6 998.2 L2392.6 988.7 L2381.6 985.4 L2367.5 990.0 L2376.9 995.1Z M2414.5 1051.4 L2423.9 1052.5 L2433.3 1059.0 L2427.0 1065.4 L2417.6 1061.4 L2414.5 1058.0 L2414.5 1051.4Z M2389.5 1016.2 L2405.1 1015.0 L2405.1 1004.3 L2391.0 1004.3 L2389.5 1016.2Z M2501.2 1130.7 L2507.5 1119.0 L2511.5 1115.3 L2513.1 1121.5 L2518.7 1124.3 L2520.9 1127.5 L2521.5 1134.2 L2517.8 1134.2 L2513.1 1133.8 L2508.4 1131.1 L2501.2 1130.7Z M2285.2 1118.2 L2294.6 1120.6 L2300.2 1127.1 L2295.6 1126.7 L2285.2 1118.2Z M2269.9 1104.4 L2274.3 1104.8 L2275.2 1109.1 L2272.1 1111.2 L2269.9 1104.4Z M2420.8 1222.4 L2427.0 1218.5 L2433.3 1217.8 L2442.7 1220.4 L2448.9 1224.4 L2454.6 1227.6 L2444.2 1228.6 L2445.2 1226.0 L2439.5 1223.4 L2431.7 1221.4 L2425.4 1221.4 L2420.8 1222.4Z M2453.6 1233.4 L2458.3 1228.6 L2463.0 1228.6 L2469.3 1229.9 L2472.7 1232.8 L2467.7 1234.0 L2463.0 1235.6 L2458.3 1234.0 L2453.6 1233.4Z M2441.7 1233.4 L2448.0 1234.0 L2446.1 1235.3 L2441.7 1234.0Z M2476.5 1233.1 L2481.2 1233.4 L2480.8 1234.7 L2476.5 1234.7Z M2486.5 1063.9 L2492.7 1063.9 L2492.7 1067.3 L2486.5 1067.3Z M2669.6 1121.0 L2675.8 1120.2 L2683.7 1118.6 L2690.9 1116.6 L2689.3 1115.3 L2692.1 1110.3 L2687.7 1109.1 L2687.1 1106.5 L2685.9 1102.7 L2682.1 1100.5 L2681.2 1097.5 L2677.4 1096.2 L2680.5 1089.6 L2675.8 1088.7 L2676.8 1084.6 L2671.2 1085.0 L2668.6 1089.6 L2669.0 1094.0 L2669.6 1097.1 L2671.8 1100.5 L2675.8 1101.0 L2677.4 1105.3 L2677.4 1107.4 L2672.7 1108.2 L2673.7 1112.0 L2670.5 1114.1 L2674.3 1114.9 L2677.4 1115.7 L2673.7 1117.0 L2669.6 1121.0Z M2655.5 1114.1 L2660.2 1114.9 L2667.1 1112.4 L2668.0 1107.8 L2668.0 1104.8 L2669.6 1101.8 L2667.1 1099.7 L2663.3 1099.2 L2660.2 1102.7 L2655.5 1104.0 L2657.1 1107.8 L2655.5 1111.2 L2655.5 1114.1Z M2611.7 1051.4 L2616.4 1046.8 L2622.6 1048.4 L2630.5 1047.9 L2636.7 1046.3 L2641.4 1048.9 L2644.5 1054.0 L2639.9 1057.5 L2633.6 1060.0 L2628.9 1061.9 L2622.6 1061.0 L2616.4 1059.5 L2617.9 1056.5 L2611.7 1051.4Z M2721.2 972.0 L2727.5 966.4 L2736.9 965.0 L2749.4 961.5 L2761.9 962.9 L2771.3 965.0 L2765.1 969.9 L2752.5 975.4 L2746.3 982.2 L2740.0 987.4 L2733.8 984.1 L2729.1 978.8 L2721.2 972.0Z M2848.0 1019.1 L2854.3 1023.0 L2859.0 1023.6 L2866.8 1023.0 L2862.1 1016.2 L2860.5 1010.3 L2865.2 1004.3 L2874.6 995.1 L2887.1 990.0 L2899.6 986.7 L2893.4 985.4 L2880.9 988.7 L2868.3 991.9 L2859.0 999.4 L2852.7 1007.3 L2849.6 1013.3 L2848.0 1019.1Z M2984.2 972.0 L2999.8 968.6 L3012.3 972.0 L3015.5 976.8 L2999.8 978.8 L2984.2 972.0Z M3118.7 995.1 L3137.5 993.2 L3150.0 996.3 L3143.8 999.4 L3125.0 999.4 L3118.7 995.1Z M2833.9 961.5 L2859.0 957.8 L2880.9 957.8 L2874.6 963.6 L2843.3 965.0 L2833.9 961.5Z M3245.5 1021.9 L3254.9 1020.2 L3256.5 1023.0 L3248.6 1023.6Z M3131.3 1103.5 L3134.4 1109.1 L3135.3 1113.2 L3136.0 1123.5 L3139.1 1126.3 L3134.4 1133.4 L3134.4 1136.5 L3131.3 1137.3 L3131.3 1130.3 L3131.3 1125.5 L3130.6 1113.2 L3131.3 1103.5Z M3125.0 1154.4 L3125.9 1148.8 L3130.3 1139.6 L3134.4 1143.1 L3142.2 1146.9 L3137.5 1148.8 L3134.4 1152.5 L3129.7 1150.7 L3125.0 1154.4Z M3128.1 1154.8 L3131.3 1161.7 L3128.1 1167.2 L3128.1 1171.5 L3126.6 1176.1 L3125.0 1177.9 L3120.3 1178.9 L3115.6 1179.3 L3111.9 1183.1 L3109.4 1179.6 L3103.1 1180.3 L3096.8 1181.4 L3096.8 1179.6 L3101.5 1176.1 L3107.8 1175.7 L3112.5 1174.3 L3115.0 1170.1 L3117.2 1171.5 L3123.4 1165.4 L3125.0 1160.6 L3125.0 1158.1 L3128.1 1154.8Z M3093.7 1182.1 L3099.3 1182.8 L3098.4 1188.3 L3096.8 1190.7 L3094.3 1191.1 L3094.3 1186.6 L3092.8 1184.8 L3093.7 1182.1Z M3101.5 1182.1 L3107.8 1180.7 L3106.8 1183.8 L3103.1 1185.5 L3101.5 1182.1Z M3067.1 1211.2 L3068.3 1213.6 L3066.5 1218.5 L3064.9 1221.8 L3062.7 1218.5 L3063.3 1215.2 L3067.1 1211.2Z M3027.0 1230.5 L3029.8 1228.2 L3033.3 1228.2 L3034.2 1229.9 L3032.0 1232.8 L3029.5 1234.0 L3027.0 1232.8Z M2936.6 1261.0 L2939.7 1262.5 L2941.3 1265.0 L2942.8 1269.4 L2940.3 1271.9 L2937.8 1272.5 L2936.6 1267.9 L2936.6 1261.0Z M3064.0 1233.1 L3069.3 1233.4 L3069.6 1237.9 L3068.7 1241.1 L3067.1 1245.8 L3070.2 1247.4 L3074.9 1250.6 L3073.4 1251.5 L3070.2 1249.6 L3064.9 1247.4 L3064.0 1245.2 L3062.4 1241.1 L3064.0 1233.1Z M3068.7 1266.9 L3073.4 1264.4 L3079.6 1261.0 L3082.1 1264.7 L3082.7 1267.9 L3081.2 1271.0 L3079.6 1272.5 L3074.9 1271.0 L3068.7 1266.9Z M3060.8 1255.9 L3063.3 1253.7 L3061.8 1258.5 L3054.6 1264.7 L3053.6 1263.8 L3060.8 1255.9Z M3068.7 1254.4 L3071.8 1255.3 L3073.4 1258.5 L3071.8 1262.2 L3070.2 1260.7 L3068.7 1258.5Z M3075.9 1252.2 L3079.6 1253.1 L3079.0 1256.9 L3078.1 1259.4 L3076.5 1257.5 L3075.9 1252.2Z M2985.1 1273.8 L2992.0 1275.0 L2995.1 1278.8 L3000.7 1283.4 L3005.4 1285.9 L3010.8 1291.2 L3013.9 1297.4 L3018.6 1300.5 L3018.0 1309.2 L3013.9 1309.2 L3009.2 1305.5 L3006.1 1303.6 L3002.3 1298.0 L3000.7 1294.3 L2997.6 1289.6 L2995.1 1286.5 L2992.0 1283.4 L2988.8 1280.3 L2985.1 1273.8Z M3016.4 1312.4 L3020.1 1309.9 L3026.4 1311.4 L3034.2 1311.4 L3039.6 1313.0 L3045.2 1315.2 L3044.6 1318.0 L3037.4 1317.0 L3031.1 1316.7 L3024.8 1315.5 L3020.1 1314.2 L3016.4 1312.4Z M3028.0 1286.5 L3032.7 1285.6 L3035.8 1282.5 L3040.5 1281.9 L3043.6 1277.2 L3046.8 1275.7 L3051.4 1270.0 L3053.9 1269.4 L3059.3 1274.7 L3056.1 1278.1 L3055.5 1280.3 L3058.6 1287.5 L3056.1 1288.1 L3054.6 1294.3 L3051.4 1299.0 L3050.5 1303.0 L3045.2 1303.6 L3040.5 1301.5 L3035.8 1301.1 L3031.7 1295.9 L3028.6 1292.8 L3028.0 1291.2 L3028.0 1286.5Z M3060.8 1289.6 L3063.0 1288.1 L3065.5 1287.5 L3071.8 1288.1 L3076.5 1287.5 L3078.1 1286.2 L3076.5 1289.6 L3073.4 1290.0 L3067.1 1289.6 L3063.3 1291.2 L3064.0 1294.3 L3067.1 1294.3 L3071.8 1294.0 L3068.7 1296.8 L3067.1 1297.4 L3069.6 1301.1 L3071.2 1303.6 L3070.2 1307.4 L3068.7 1305.8 L3067.1 1302.1 L3065.5 1299.6 L3063.3 1300.5 L3063.7 1305.2 L3063.3 1308.3 L3060.8 1308.3 L3060.8 1303.6 L3059.9 1300.5 L3058.6 1299.0 L3060.2 1295.2 L3060.8 1289.6Z M3096.8 1293.7 L3101.5 1292.4 L3106.2 1293.7 L3107.2 1299.0 L3109.4 1301.5 L3113.4 1298.3 L3118.7 1296.5 L3123.4 1298.0 L3128.1 1299.3 L3134.4 1301.8 L3140.7 1304.6 L3143.8 1308.3 L3148.5 1309.9 L3149.4 1315.5 L3153.2 1319.2 L3157.9 1323.9 L3153.2 1323.3 L3146.9 1320.8 L3143.8 1316.7 L3137.5 1315.2 L3134.4 1319.2 L3132.8 1319.9 L3128.1 1319.5 L3123.4 1316.7 L3120.3 1316.7 L3118.7 1313.0 L3120.3 1309.9 L3118.7 1308.3 L3115.6 1306.4 L3110.9 1304.9 L3106.2 1303.3 L3103.1 1303.6 L3100.0 1299.9 L3104.7 1298.3 L3100.0 1298.0 L3096.8 1295.5 L3096.8 1293.7Z M3073.4 1323.3 L3076.5 1319.9 L3084.3 1317.4 L3082.7 1319.2 L3078.1 1321.7 L3073.4 1323.3Z M3049.9 1317.4 L3059.3 1317.0 L3065.5 1317.7 L3071.8 1317.0 L3071.2 1318.6 L3062.4 1318.9 L3056.1 1318.9 L3049.9 1318.9Z M3061.8 1320.5 L3064.9 1322.1 L3062.4 1323.0 L3059.3 1321.4Z M3085.9 1285.0 L3087.4 1286.5 L3089.0 1290.3 L3086.8 1293.7 L3085.9 1289.6 L3085.9 1285.0Z M3081.2 1301.1 L3084.3 1301.1 L3090.6 1300.2 L3095.3 1301.1 L3092.1 1302.1 L3085.9 1302.7 L3081.2 1301.1Z M3153.2 1308.3 L3159.4 1306.7 L3163.2 1304.3 L3162.6 1308.3 L3157.9 1310.5 L3153.2 1309.9Z M2791.7 1177.9 L2794.8 1175.7 L2793.2 1177.9 L2788.5 1178.9Z M2760.4 1176.1 L2765.1 1176.5 L2769.1 1177.2 L2765.1 1177.9 L2760.4 1177.2Z M2713.7 1154.8 L2716.2 1148.8 L2716.5 1152.5 L2715.6 1154.8Z M2636.7 1201.9 L2638.9 1201.9 L2638.3 1202.9Z M2859.9 1357.4 L2861.5 1357.7 L2860.5 1358.7Z M2494.3 1257.8 L2495.9 1257.5 L2495.9 1259.7 L2493.4 1259.7Z M2499.0 1466.3 L2505.9 1467.1 L2502.1 1470.0 L2497.4 1469.2Z M3200.1 1354.8 L3204.8 1357.4 L3209.5 1361.3 L3206.4 1361.3 L3200.7 1356.4Z M3241.7 1346.1 L3245.5 1346.1 L3245.5 1348.4 L3241.7 1348.0Z M2902.8 1456.9 L2906.8 1457.7 L2905.3 1459.3 L2902.8 1458.9Z M3227.4 1402.8 L3229.9 1405.2 L3233.0 1408.1 L3236.1 1410.6 L3237.7 1413.8 L3245.5 1414.5 L3243.9 1418.8 L3240.8 1420.7 L3240.2 1426.2 L3235.5 1428.4 L3233.9 1427.6 L3234.6 1422.5 L3230.8 1419.9 L3233.0 1417.0 L3233.9 1414.5 L3231.4 1409.8 L3227.4 1402.8Z M3227.4 1424.7 L3228.9 1426.9 L3232.4 1428.8 L3229.9 1433.6 L3227.4 1436.3 L3223.6 1439.3 L3222.0 1444.3 L3217.3 1447.4 L3212.6 1447.0 L3207.9 1444.7 L3211.1 1440.5 L3214.2 1437.4 L3218.9 1433.6 L3222.0 1430.6 L3225.2 1426.2 L3227.4 1424.7Z" fill="#26312d" stroke="#26312d" stroke-width="0.8" stroke-linejoin="round"/>
<path d="M2833.9 1141.2 L2838.6 1137.3 L2846.4 1133.4 L2852.7 1135.4 L2851.1 1140.0 L2846.4 1142.7 L2844.9 1148.8 L2851.1 1152.5 L2854.3 1158.1 L2852.7 1161.7 L2855.2 1170.8 L2849.6 1171.8 L2843.3 1169.7 L2840.2 1165.4 L2841.1 1159.9 L2837.0 1153.3 L2834.5 1148.8 L2833.9 1141.2Z" fill="#171c20"/>
<path d="M2245.5 1029.7 L2245.5 1076.8 L2251.7 1078.2 L2256.4 1083.2 L2263.3 1080.5 L2268.9 1085.0 L2275.2 1093.1 L2279.9 1096.2 L2279.3 1100.5 M2302.4 1125.5 L2388.8 1125.5 L2391.0 1126.7 L2398.8 1128.3 L2406.7 1129.5 L2410.4 1128.3 L2421.4 1134.2 L2425.4 1137.3 L2428.6 1140.0 L2428.9 1148.8 L2427.0 1151.4 L2428.6 1153.6 L2439.5 1149.5 L2439.5 1146.9 L2447.4 1146.1 L2452.1 1141.2 L2463.0 1141.2 L2465.2 1139.6 L2467.7 1135.4 L2470.2 1131.8 L2474.0 1132.2 L2474.6 1138.1 L2477.1 1140.8 M2398.2 1245.8 L2399.8 1241.1 L2403.5 1240.4 L2402.0 1235.3 L2407.6 1235.0 L2410.4 1233.4 M2407.6 1235.0 L2407.6 1241.1 L2408.5 1241.7 M2405.1 1248.1 L2407.3 1246.2 L2407.6 1244.3 L2410.4 1242.0 M2413.2 1250.9 L2415.4 1248.1 L2418.2 1247.7 L2421.4 1244.9 L2426.4 1244.6 M2418.2 1256.9 L2421.7 1256.9 L2424.8 1256.9 M2427.0 1265.4 L2427.3 1261.6 L2427.9 1261.3 M2460.5 1268.8 L2466.1 1269.4 L2469.3 1272.2 L2475.5 1271.9 L2474.6 1277.2 L2476.2 1280.3 L2477.1 1287.5 L2480.2 1288.1 L2483.4 1288.1 L2485.9 1286.5 L2486.5 1283.4 L2489.6 1279.4 L2492.7 1278.1 L2496.8 1276.0 L2497.4 1275.0 L2494.6 1272.5 L2495.9 1269.4 L2499.0 1264.7 M2496.8 1276.0 L2499.6 1277.2 L2499.9 1284.1 L2502.8 1287.2 L2508.4 1285.0 L2511.5 1285.0 L2516.2 1284.1 L2522.5 1284.1 L2525.0 1278.8 L2527.2 1278.8 M2508.4 1272.5 L2507.5 1275.7 L2505.3 1278.8 L2506.8 1280.9 L2508.4 1285.0 M2517.8 1273.2 L2516.2 1276.3 L2517.8 1280.3 L2516.2 1284.1 M2477.1 1287.5 L2468.3 1285.9 L2469.9 1289.3 L2467.7 1291.8 L2469.3 1294.3 L2467.7 1304.3 L2458.9 1306.7 L2455.8 1313.0 L2458.3 1319.2 L2460.5 1322.4 L2466.1 1320.8 L2466.1 1325.5 L2469.3 1325.5 L2471.8 1330.2 L2470.8 1336.6 L2469.3 1341.3 L2470.8 1346.1 L2466.4 1348.7 M2435.8 1301.5 L2438.0 1305.2 L2441.1 1302.1 L2445.8 1299.0 L2450.5 1295.9 L2451.1 1291.5 M2469.3 1325.5 L2474.0 1325.5 L2480.2 1322.4 L2482.4 1327.1 L2491.2 1331.8 L2497.4 1334.3 L2498.4 1342.3 L2504.3 1342.3 L2504.6 1346.1 L2506.8 1347.7 L2505.3 1353.5 L2502.1 1351.9 L2493.7 1352.9 L2491.8 1355.8 L2490.9 1361.3 L2486.5 1360.6 L2483.4 1361.0 L2479.6 1360.0 L2477.1 1363.9 L2474.3 1363.3 L2473.3 1359.0 L2471.8 1354.2 L2470.8 1350.9 L2469.3 1346.1 M2505.3 1353.5 L2505.6 1360.6 L2511.5 1361.6 L2513.1 1367.2 L2516.2 1367.2 L2515.9 1372.5 L2513.1 1377.1 L2510.0 1378.8 L2503.4 1377.8 L2506.2 1371.5 L2499.0 1367.2 L2494.3 1363.9 L2490.9 1361.3 M2515.9 1372.5 L2518.4 1377.8 L2512.1 1381.5 L2506.5 1387.9 L2511.5 1390.0 L2517.8 1394.1 L2520.0 1400.0 L2519.3 1401.0 M2506.5 1387.9 L2504.6 1395.8 L2504.0 1401.0 M2477.1 1363.9 L2472.4 1369.8 L2472.4 1377.1 L2468.3 1387.3 L2466.8 1397.6 L2468.3 1404.5 L2464.6 1417.0 L2462.1 1428.0 L2462.4 1437.4 L2463.0 1447.0 L2459.9 1456.9 L2460.5 1465.0 L2469.3 1470.0 L2472.4 1470.4 M2658.9 1152.9 L2661.1 1152.5 L2666.1 1152.9 L2667.4 1154.0 L2665.5 1156.2 L2665.2 1158.8 L2664.9 1161.0 L2664.3 1162.8 L2664.9 1166.1 L2663.3 1167.2 L2663.6 1170.1 M2681.2 1147.3 L2685.2 1149.5 L2689.0 1149.5 L2693.1 1151.0 L2696.8 1151.0 M2710.3 1145.8 L2708.7 1144.2 L2707.8 1140.8 L2708.7 1137.7 L2706.2 1136.1 L2705.6 1135.0 L2708.7 1131.4 L2710.6 1131.1 L2712.5 1125.5 L2706.8 1123.5 L2705.0 1123.5 L2699.9 1121.5 L2694.9 1117.0 M2710.6 1131.1 L2716.5 1131.4 L2719.7 1133.8 L2716.5 1135.8 L2713.4 1136.1 L2711.5 1137.7 L2708.7 1137.7 M2719.7 1133.8 L2725.0 1133.4 L2729.7 1135.4 L2736.9 1134.2 L2740.0 1129.5 L2733.8 1125.5 L2730.0 1126.7 L2727.5 1131.4 L2716.5 1131.4 M2706.8 1123.5 L2705.9 1118.6 L2708.7 1112.4 L2709.3 1107.8 M2699.9 1121.5 L2705.6 1118.2 M2697.4 1115.7 L2705.6 1114.1 M2713.7 1101.0 L2717.5 1101.4 M2731.2 1105.3 L2732.8 1113.2 L2733.8 1117.4 L2731.6 1117.4 L2725.3 1120.2 L2730.0 1126.7 M2733.8 1117.4 L2740.0 1120.2 L2745.6 1123.5 L2757.2 1125.1 L2756.3 1127.9 L2751.0 1127.9 L2745.6 1130.3 L2740.0 1129.5 M2747.8 1103.1 L2758.8 1103.5 L2760.7 1105.3 L2760.7 1113.2 L2761.9 1118.2 L2757.9 1123.5 L2757.2 1125.1 M2760.7 1105.3 L2766.6 1104.0 L2770.7 1099.2 L2775.1 1095.3 L2773.8 1090.4 L2772.6 1089.1 L2774.4 1080.5 M2752.5 1095.8 L2764.4 1094.4 L2770.7 1099.2 M2754.1 1089.6 L2765.1 1087.3 L2772.6 1089.1 M2775.1 1095.3 L2783.2 1097.9 L2786.3 1105.7 L2785.1 1112.8 L2771.3 1114.9 L2760.7 1113.2 M2785.1 1112.8 L2794.5 1114.5 L2797.9 1119.8 L2805.7 1121.9 L2812.3 1123.5 L2811.4 1129.9 L2806.4 1133.0 M2756.3 1127.9 L2763.5 1129.9 L2770.1 1128.3 L2774.4 1130.3 L2775.1 1139.2 L2779.8 1140.0 M2775.1 1139.2 L2770.1 1128.3 M2750.3 1136.5 L2758.2 1129.9 L2756.3 1127.9 M2736.9 1134.2 L2738.4 1135.4 L2745.6 1137.7 L2750.3 1136.5 L2754.1 1140.4 L2757.2 1142.3 L2757.9 1144.2 L2765.1 1146.1 L2771.3 1144.6 L2776.3 1146.1 M2729.7 1138.5 L2734.7 1139.2 L2738.4 1135.4 M2745.6 1137.7 L2746.3 1141.2 L2747.5 1141.6 L2748.1 1148.0 L2750.7 1149.5 L2751.3 1152.9 L2752.5 1156.6 L2751.6 1159.6 L2750.0 1161.7 M2757.2 1142.3 L2756.9 1149.5 L2758.5 1155.1 L2768.8 1154.8 L2769.1 1156.6 M2751.3 1152.9 L2758.5 1155.1 M2768.8 1154.8 L2773.8 1152.5 M2776.0 1028.6 L2778.2 1032.5 L2774.4 1037.3 L2780.4 1044.7 L2777.9 1054.0 L2781.0 1060.5 L2785.4 1064.4 L2780.1 1072.1 L2773.8 1075.8 M2751.3 1032.5 L2760.7 1038.9 L2761.9 1044.7 L2761.9 1049.9 M2721.9 1083.2 L2725.0 1077.2 L2725.3 1071.1 L2725.0 1061.4 L2730.6 1058.0 L2732.2 1048.4 L2736.9 1041.1 L2743.1 1035.7 L2749.7 1033.0 L2751.3 1032.5 L2765.1 1035.2 L2768.2 1028.1 L2776.0 1028.6 M2816.7 1154.4 L2823.0 1155.9 L2827.7 1155.1 L2832.7 1153.3 L2838.9 1153.3 M2811.7 1147.3 L2818.3 1148.0 L2826.1 1149.9 L2832.0 1152.9 M2800.1 1171.8 L2805.7 1171.5 L2814.5 1170.4 L2819.2 1170.1 L2827.0 1170.1 L2826.1 1161.0 L2823.3 1159.2 L2823.0 1155.9 M2827.0 1170.1 L2830.8 1175.0 L2829.2 1181.4 L2831.4 1184.8 L2836.4 1189.0 L2837.0 1195.1 L2839.5 1194.1 M2819.2 1170.1 L2815.8 1178.6 L2808.2 1183.5 L2802.0 1187.3 L2799.2 1185.9 L2799.2 1179.6 M2808.2 1183.5 L2809.5 1188.0 L2813.3 1188.6 L2818.6 1191.4 L2826.7 1197.9 L2832.3 1198.2 L2835.5 1198.5 L2837.0 1195.8 M2796.0 1196.8 L2799.5 1197.9 L2804.2 1195.1 L2802.6 1190.0 L2808.9 1188.3 L2809.5 1188.0 M2835.5 1198.5 L2836.1 1200.2 L2838.6 1200.2 M2848.3 1213.6 L2847.4 1214.2 L2849.6 1218.5 L2859.6 1219.5 L2861.1 1221.8 L2859.0 1228.2 L2849.6 1231.5 L2839.5 1234.0 L2832.0 1237.2 L2822.0 1236.3 L2820.5 1239.8 M2849.6 1231.5 L2852.7 1237.9 L2853.0 1238.8 M2859.6 1219.5 L2862.1 1215.2 L2863.3 1211.9 M2838.9 1153.3 L2844.9 1158.1 M2855.5 1169.7 L2863.6 1166.5 L2872.4 1169.0 L2878.4 1172.2 L2876.2 1181.4 L2877.1 1190.0 L2879.9 1192.4 L2877.4 1195.8 L2884.9 1204.6 L2884.6 1206.6 L2879.6 1211.2 M2877.4 1195.8 L2887.1 1196.8 L2894.3 1195.8 L2894.6 1191.7 L2903.7 1188.6 L2904.3 1184.5 L2906.8 1183.5 L2909.7 1178.9 L2910.9 1173.3 L2920.0 1170.8 L2921.2 1170.1 M2878.4 1172.2 L2889.0 1173.3 L2894.9 1169.3 L2899.6 1170.8 L2904.3 1168.6 L2910.9 1171.8 L2915.3 1169.3 L2921.2 1170.1 M2851.1 1153.6 L2855.8 1151.4 L2860.5 1155.1 L2865.2 1155.1 L2870.2 1149.5 L2874.6 1151.8 L2880.5 1155.9 L2894.9 1169.3 M2870.2 1138.9 L2878.4 1143.9 L2889.9 1146.1 L2893.7 1148.8 L2893.4 1152.5 L2899.6 1156.2 L2902.8 1154.8 L2907.5 1152.5 L2909.0 1151.4 L2916.9 1151.0 L2919.0 1148.0 L2934.1 1149.5 L2937.8 1151.8 M2899.0 1161.4 L2907.5 1159.2 L2917.5 1161.7 L2917.8 1165.0 L2921.2 1170.1 M2917.5 1161.7 L2927.5 1156.2 L2937.8 1151.8 L2937.8 1141.2 L2945.0 1140.4 L2946.6 1132.6 L2954.4 1133.4 L2960.0 1125.1 M2840.2 1136.1 L2838.6 1129.5 L2833.0 1127.5 L2834.8 1120.2 L2845.8 1114.5 L2859.0 1119.0 L2869.9 1117.4 L2879.3 1118.2 L2877.7 1105.7 L2890.2 1102.7 L2902.8 1099.2 L2909.0 1104.0 L2918.4 1106.5 L2926.2 1103.5 L2930.6 1107.8 L2937.2 1118.2 L2947.8 1117.4 L2953.5 1123.1 L2960.0 1125.1 M2960.0 1125.1 L2971.6 1119.4 L2982.9 1121.5 L2994.5 1113.2 L3006.7 1119.4 L3020.8 1120.2 L3034.2 1123.9 L3043.6 1120.2 L3052.1 1122.3 L3055.5 1123.5 L3062.1 1119.8 L3064.6 1110.7 L3073.4 1107.0 L3081.2 1109.9 L3085.9 1122.3 L3095.3 1125.9 L3096.5 1130.7 L3103.4 1129.1 L3108.4 1128.3 L3103.7 1141.2 L3097.1 1141.6 L3097.8 1148.8 L3095.9 1151.4 M2960.0 1125.1 L2964.1 1128.7 L2971.3 1133.8 L2971.6 1140.4 L2985.4 1143.9 L2988.5 1149.9 L3005.4 1150.7 L3015.5 1154.0 L3032.4 1149.5 L3037.4 1145.8 L3037.0 1141.2 L3048.9 1139.2 L3051.8 1136.1 L3062.1 1134.6 L3055.5 1123.5 M2921.2 1170.1 L2930.9 1176.1 L2934.1 1180.3 L2933.4 1190.7 L2940.6 1194.5 L2949.4 1197.5 L2962.6 1202.2 L2964.7 1204.3 L2973.8 1202.6 L2975.1 1205.6 L2985.4 1198.5 L2991.3 1200.9 L2995.7 1203.6 L2995.7 1209.3 L2992.3 1215.5 L2997.3 1221.1 L3003.2 1222.4 L3006.4 1220.4 L3016.4 1217.5 L3020.8 1219.1 L3024.8 1223.4 M2940.6 1194.5 L2937.5 1199.2 L2947.5 1203.9 L2955.4 1206.6 L2962.6 1207.3 L2962.6 1202.2 M2964.7 1204.3 L2964.7 1207.6 L2962.6 1207.3 L2962.6 1212.2 L2965.4 1221.8 L2965.4 1222.4 M2975.7 1225.7 L2977.0 1224.0 L2976.0 1217.8 L2972.6 1214.9 L2976.3 1211.9 L2967.9 1210.9 L2967.9 1207.9 L2964.7 1207.6 M2977.0 1224.0 L2978.8 1215.2 L2983.2 1210.3 L2991.3 1200.9 M2900.3 1216.5 L2909.0 1213.2 L2904.6 1204.6 L2915.3 1195.1 L2920.0 1186.6 L2922.8 1187.3 L2920.0 1178.9 L2930.3 1176.1 L2930.9 1176.1 M2994.2 1260.3 L2997.3 1254.7 L2997.0 1248.1 L2994.2 1243.6 L2995.4 1240.1 L2992.6 1233.1 L2998.5 1227.3 L3000.1 1226.9 L3003.2 1222.4 M3000.1 1226.9 L3001.7 1229.9 L3003.6 1236.3 L3006.4 1234.0 L3012.3 1233.7 L3014.5 1239.5 L3017.3 1242.0 L3016.1 1246.5 L3007.9 1246.8 L3007.6 1253.1 M3016.1 1246.5 L3023.3 1245.2 L3023.3 1252.2 L3018.0 1254.7 L3019.8 1256.9 L3016.1 1257.2 L3013.6 1258.8 M3006.4 1220.4 L3008.9 1222.7 L3012.6 1226.9 L3012.3 1230.5 L3016.1 1232.8 L3020.1 1237.9 L3023.3 1240.4 L3023.3 1245.2 M3000.1 1271.3 L3003.2 1273.8 L3006.4 1271.9 M3075.9 1159.9 L3084.0 1153.3 L3088.4 1152.5 L3092.8 1151.0 L3095.6 1151.0 M3081.5 1167.9 L3088.7 1165.0 M3030.2 1285.0 L3032.7 1288.4 L3038.0 1286.9 L3045.5 1286.9 L3046.8 1283.4 L3048.9 1278.1 L3054.9 1278.1 M3128.1 1299.3 L3128.1 1319.5 M2645.5 1202.9 L2659.6 1202.9 L2659.6 1199.6 L2670.2 1195.1 L2675.5 1191.7 L2683.0 1188.0 L2681.2 1179.6 L2679.9 1177.5 M2659.6 1204.3 L2671.8 1211.9 L2690.6 1224.7 L2696.8 1228.9 L2699.9 1231.1 L2705.0 1229.9 L2724.4 1216.8 L2716.5 1207.3 L2717.8 1195.1 L2715.0 1194.5 L2710.3 1182.1 L2713.7 1171.1 M2633.6 1225.0 L2646.1 1224.0 L2646.1 1218.5 L2649.2 1216.8 L2649.2 1208.6 L2659.6 1208.6 L2659.6 1204.3 M2635.2 1240.8 L2642.0 1239.2 L2648.6 1244.9 L2651.1 1252.5 L2643.9 1252.2 L2634.5 1252.8 M2648.6 1244.9 L2650.8 1242.3 L2669.6 1242.7 L2669.6 1239.5 L2666.5 1211.9 L2671.8 1211.9 M2699.9 1231.1 L2699.9 1239.5 L2697.8 1242.7 L2690.9 1243.3 L2687.4 1244.3 L2684.6 1243.9 L2680.5 1246.8 L2677.4 1248.4 L2673.0 1251.9 L2670.2 1254.4 L2669.6 1258.8 L2661.8 1259.4 L2660.8 1256.9 L2658.6 1252.5 L2651.1 1252.5 M2643.6 1260.7 L2651.7 1260.0 L2654.6 1264.7 L2657.4 1268.2 L2660.2 1267.5 L2661.1 1264.7 L2661.8 1259.4 M2650.8 1269.7 L2654.6 1264.7 M2663.3 1277.5 L2660.2 1271.0 L2660.2 1267.5 M2677.4 1275.3 L2678.0 1269.4 L2678.3 1261.6 L2678.0 1256.9 L2684.6 1256.9 L2689.6 1256.9 L2694.3 1254.1 L2698.1 1254.7 L2698.7 1257.8 L2695.6 1263.2 L2695.3 1271.3 M2690.6 1272.2 L2691.8 1263.2 L2689.6 1256.9 M2684.6 1256.9 L2686.8 1256.6 L2688.7 1266.3 L2690.6 1272.2 M2694.3 1254.1 L2697.8 1242.7 M2698.1 1254.7 L2699.6 1249.0 L2708.4 1250.6 L2713.4 1250.3 L2718.1 1249.3 L2725.9 1250.3 L2729.4 1248.4 L2729.1 1245.8 L2735.3 1238.2 L2736.6 1226.9 L2733.8 1218.5 L2724.4 1216.8 M2733.8 1218.5 L2747.8 1221.8 L2761.9 1229.9 L2761.9 1242.0 L2758.5 1242.3 L2755.7 1251.9 L2758.5 1256.9 L2754.7 1258.1 L2746.0 1263.2 L2735.0 1267.9 L2731.9 1272.5 L2732.2 1276.0 L2736.9 1284.4 L2728.4 1284.4 L2722.2 1284.4 L2717.5 1284.1 M2729.4 1248.4 L2730.9 1251.5 L2733.4 1253.1 L2734.1 1260.0 L2730.0 1256.9 L2728.1 1261.3 L2726.9 1263.8 L2724.0 1268.2 L2721.5 1270.4 L2718.4 1269.4 L2714.0 1276.6 M2761.9 1229.9 L2765.1 1228.2 L2765.1 1189.7 M2765.1 1221.8 L2784.8 1221.8 L2802.3 1221.8 M2761.9 1242.0 L2761.9 1229.9 M2758.5 1256.9 L2760.7 1260.3 L2763.5 1263.5 L2765.7 1266.6 L2772.6 1275.0 L2769.4 1275.7 L2758.5 1276.3 L2756.9 1278.5 L2747.8 1275.3 L2745.0 1277.8 L2745.0 1280.3 L2736.9 1284.4 M2772.6 1275.0 L2778.2 1277.5 L2783.2 1280.3 L2786.6 1280.0 L2793.2 1278.1 L2799.2 1276.9 M2760.7 1260.3 L2769.7 1261.6 L2774.1 1261.3 L2777.6 1261.0 L2787.0 1253.7 L2790.7 1257.8 L2793.5 1264.4 L2790.1 1266.6 L2795.4 1270.4 L2797.3 1274.1 L2799.2 1276.9 M2800.7 1246.2 L2804.5 1246.8 L2812.0 1245.8 L2819.5 1252.2 M2802.3 1221.8 L2807.6 1234.7 L2805.4 1236.6 L2800.7 1246.2 L2799.8 1251.5 L2796.7 1254.4 L2793.5 1264.4 M2821.1 1255.0 L2817.6 1256.9 L2821.4 1260.3 L2833.9 1266.3 L2837.0 1266.3 L2827.7 1275.7 L2818.3 1278.1 L2815.1 1279.1 L2811.4 1279.4 L2806.1 1280.0 L2799.2 1276.9 M2817.0 1296.5 L2815.1 1291.2 L2815.1 1279.1 M2793.2 1278.1 L2794.8 1281.9 L2796.4 1285.9 L2793.2 1290.3 L2793.2 1294.3 L2804.5 1300.5 L2809.5 1305.8 M2783.2 1280.3 L2784.5 1284.4 L2780.7 1288.4 L2779.4 1295.5 L2782.3 1294.6 L2792.9 1294.3 M2779.4 1295.5 L2778.2 1299.9 L2777.6 1300.5 L2778.8 1305.2 L2778.8 1308.3 M2782.3 1294.6 L2783.2 1298.7 L2782.3 1301.5 L2778.8 1305.2 M2783.2 1317.7 L2789.8 1320.5 L2793.2 1320.8 L2796.0 1327.4 L2804.2 1327.7 L2813.3 1323.9 M2725.0 1309.6 L2727.5 1309.6 L2738.8 1309.6 L2740.0 1314.5 L2747.8 1313.0 L2755.0 1313.9 L2755.7 1325.5 L2761.9 1325.5 L2761.9 1331.8 L2755.7 1331.8 L2755.7 1342.0 L2760.0 1346.4 L2753.8 1347.7 L2752.5 1348.7 L2752.5 1360.6 L2749.4 1360.6 L2749.4 1381.8 L2746.3 1383.9 L2741.3 1382.8 L2738.4 1382.5 M2724.4 1345.2 L2730.6 1345.8 L2744.4 1345.8 L2753.8 1347.7 M2761.9 1325.5 L2766.0 1326.1 L2771.3 1328.7 L2775.7 1330.5 L2780.1 1333.4 L2776.3 1328.7 L2775.7 1319.9 L2783.2 1317.7 M2760.0 1346.4 L2766.0 1347.1 L2771.3 1347.7 L2777.3 1341.0 L2782.0 1340.1 L2782.0 1338.1 L2790.7 1335.0 L2789.2 1333.7 L2790.1 1328.7 L2791.0 1320.8 L2789.8 1320.5 M2782.0 1340.1 L2789.5 1343.6 L2789.8 1353.2 L2788.2 1358.4 L2784.8 1362.0 L2787.0 1368.8 L2786.6 1373.1 L2787.3 1376.5 L2789.8 1376.8 M2766.0 1347.1 L2768.2 1350.9 L2773.5 1357.4 L2778.8 1361.3 L2784.8 1362.0 M2749.4 1369.8 L2751.9 1376.5 L2757.5 1374.1 L2758.8 1371.5 L2766.6 1372.8 L2771.0 1367.2 L2778.8 1361.3 M2790.7 1335.0 L2794.8 1336.2 L2798.9 1341.3 L2797.0 1344.5 L2794.8 1338.1 M2716.2 1288.7 L2717.5 1288.1 L2722.2 1288.1 L2722.2 1284.4 M2723.7 1305.2 L2727.5 1305.5 L2731.9 1306.1 L2737.5 1298.0 L2742.2 1292.8 L2743.1 1285.0 L2745.0 1280.3 M2721.5 1303.3 L2725.9 1298.3 L2731.9 1297.4 L2731.9 1292.8 L2730.6 1286.9 L2728.4 1284.4" fill="none" stroke="#19211f" stroke-width="1" stroke-linejoin="round"/>
<path d="M2320.3 1186.6 L2327.5 1186.6 L2327.5 1186.6 L2339.4 1190.7 L2348.1 1190.7 L2348.1 1189.0 L2353.5 1189.0 L2358.5 1193.4 L2359.7 1196.8 L2364.4 1198.5 L2366.3 1195.8 L2369.7 1196.2 L2372.9 1200.9 L2375.4 1203.6 L2376.9 1207.3 L2382.6 1208.9 L2380.7 1220.1 L2382.6 1226.6 L2386.3 1231.5 L2390.4 1234.0 L2397.3 1232.8 L2402.0 1231.5 L2403.5 1225.0 L2409.8 1223.4 L2414.5 1223.4 L2412.9 1229.9 L2412.0 1233.7 L2410.4 1233.4 L2407.6 1235.0 L2402.0 1235.3 L2403.5 1240.4 L2399.8 1241.1 L2398.2 1245.8 L2391.6 1240.4 L2384.8 1242.0 L2378.5 1240.1 L2373.8 1237.9 L2367.5 1235.0 L2359.7 1230.5 L2356.3 1226.6 L2356.9 1222.4 L2353.5 1217.2 L2348.8 1211.9 L2344.1 1206.6 L2339.4 1201.9 L2334.7 1196.8 L2332.5 1191.1 L2327.5 1189.3 L2327.8 1194.5 L2331.5 1199.2 L2334.4 1203.6 L2337.8 1208.6 L2340.9 1214.2 L2344.1 1218.2 L2341.9 1217.5 L2336.2 1212.6 L2335.3 1207.9 L2329.4 1204.3 L2328.4 1200.2 L2324.3 1195.8 L2322.2 1190.7 L2320.3 1186.6Z" fill="#7dfba3" stroke="#19211f" stroke-width="0.8" stroke-linejoin="round"/>
<path d="M2444.5 1264.1 L2446.4 1266.3 L2449.9 1261.6 L2451.1 1257.8 L2454.6 1256.3 L2458.3 1255.6 L2463.0 1252.5 L2463.9 1254.4 L2460.8 1256.3 L2458.3 1261.6 L2459.9 1265.4 L2460.5 1268.8 L2466.1 1269.4 L2469.3 1272.2 L2475.5 1271.9 L2474.6 1277.2 L2476.2 1280.3 L2477.1 1287.5 L2474.0 1285.6 L2468.3 1285.9 L2469.9 1289.3 L2467.7 1291.8 L2469.3 1294.3 L2467.7 1304.3 L2465.5 1303.0 L2466.8 1299.0 L2461.4 1298.7 L2457.7 1298.3 L2454.2 1294.3 L2451.1 1291.5 L2448.0 1290.0 L2444.9 1290.0 L2440.2 1286.5 L2444.2 1283.1 L2444.9 1278.8 L2444.2 1274.1 L2444.2 1270.0 L2443.0 1268.8 L2444.5 1264.1Z" fill="#428a5b" stroke="#19211f" stroke-width="0.8" stroke-linejoin="round"/>
<path d="M2658.9 1152.9 L2657.7 1148.8 L2661.8 1146.1 L2669.6 1146.9 L2675.8 1146.9 L2681.2 1147.3 L2685.2 1149.5 L2689.0 1149.5 L2693.1 1151.0 L2696.8 1151.0 L2696.8 1152.9 L2693.1 1155.1 L2689.3 1157.0 L2685.9 1161.7 L2687.1 1164.7 L2684.6 1168.6 L2680.5 1171.5 L2672.7 1171.8 L2669.3 1174.3 L2667.1 1172.2 L2663.6 1170.1 L2663.3 1167.2 L2664.9 1166.1 L2664.3 1162.8 L2664.9 1161.0 L2665.2 1158.8 L2665.5 1156.2 L2667.4 1154.0 L2666.1 1152.9 L2661.1 1152.5 L2658.9 1152.9Z M2694.0 1161.4 L2697.1 1160.3 L2697.4 1162.1 L2694.9 1162.5Z M2690.6 1163.6 L2691.8 1163.2 L2691.5 1164.3Z" fill="#4b9864" stroke="#19211f" stroke-width="0.8" stroke-linejoin="round"/>
<path d="M2710.3 1145.8 L2708.7 1144.2 L2707.8 1140.8 L2708.7 1137.7 L2711.5 1137.7 L2713.4 1136.1 L2716.5 1135.8 L2719.7 1133.8 L2725.0 1133.4 L2729.7 1135.4 L2729.7 1138.5 L2725.3 1140.0 L2725.3 1143.9 L2729.4 1146.9 L2731.2 1151.4 L2736.9 1152.9 L2741.6 1156.2 L2744.7 1159.2 L2744.1 1160.6 L2740.0 1158.1 L2738.8 1161.0 L2740.6 1163.6 L2738.4 1166.1 L2735.9 1167.5 L2736.9 1164.3 L2735.9 1159.9 L2732.2 1157.7 L2727.5 1155.5 L2723.4 1151.8 L2719.7 1149.2 L2718.7 1145.4 L2714.3 1143.5 L2710.3 1145.8Z M2725.6 1167.2 L2729.1 1166.5 L2735.6 1166.1 L2734.4 1169.7 L2734.1 1171.8 L2730.6 1170.8 L2725.9 1168.6Z M2712.5 1156.2 L2715.9 1155.5 L2717.5 1158.1 L2716.8 1162.8 L2715.0 1163.6 L2713.1 1163.2 L2713.1 1158.8Z" fill="#5ab879" stroke="#19211f" stroke-width="0.8" stroke-linejoin="round"/>
</g>
<text x="2061.4" y="1198.6" font-size="16.6" fill="#fff" textLength="43.0" lengthAdjust="spacingAndGlyphs">Venta</text>
<rect x="2069.3" y="1222.8" width="13.5" height="127.8" fill="url(#leg)"/>
<text x="2090.7" y="1228.0" font-size="17.2" fill="#fff" textLength="105.3" lengthAdjust="spacingAndGlyphs" font-weight="bold">$8,643,631.53</text>
<text x="2090.7" y="1292.8" font-size="17.2" fill="#fff" textLength="105.3" lengthAdjust="spacingAndGlyphs" font-weight="bold">$4,697,911.72</text>
<text x="2090.7" y="1358.0" font-size="17.2" fill="#fff" textLength="91.2" lengthAdjust="spacingAndGlyphs" font-weight="bold">$752,191.91</text>
<text x="3239.3" y="1597.0" font-size="11.6" fill="#fff" textLength="78.0" lengthAdjust="spacingAndGlyphs" stroke="#fff" stroke-width="0.3">Powered by Bing</text>
<clipPath id="attr"><rect x="2640" y="1598" width="674" height="20"/></clipPath>
<g clip-path="url(#attr)"><text x="2653.4" y="1611.0" font-size="11.6" fill="#fff" textLength="664.0" lengthAdjust="spacingAndGlyphs" stroke="#fff" stroke-width="0.3">© Australian Bureau of Statistics, GeoNames, Microsoft, Navinfo, Open Places, OpenStreetMap, Overture Maps Fundation, TomTom, Zenrin</text></g>
<!-- watermark -->
<path d="M143 123 L121 145 L66 90 L120.75 35.25 L160.25 74.75 L127.4 107.6" fill="none" stroke="#aac832" stroke-opacity="0.12" stroke-width="20.5" stroke-linejoin="round" transform="translate(2716.7 1448.3) scale(1.43)"/><text x="2990.0" y="1637.0" font-size="172" fill="#9aa0a8" textLength="440.0" lengthAdjust="spacingAndGlyphs" font-weight="bold" opacity="0.03">Platzi</text>
</svg>
</body>
</html>
